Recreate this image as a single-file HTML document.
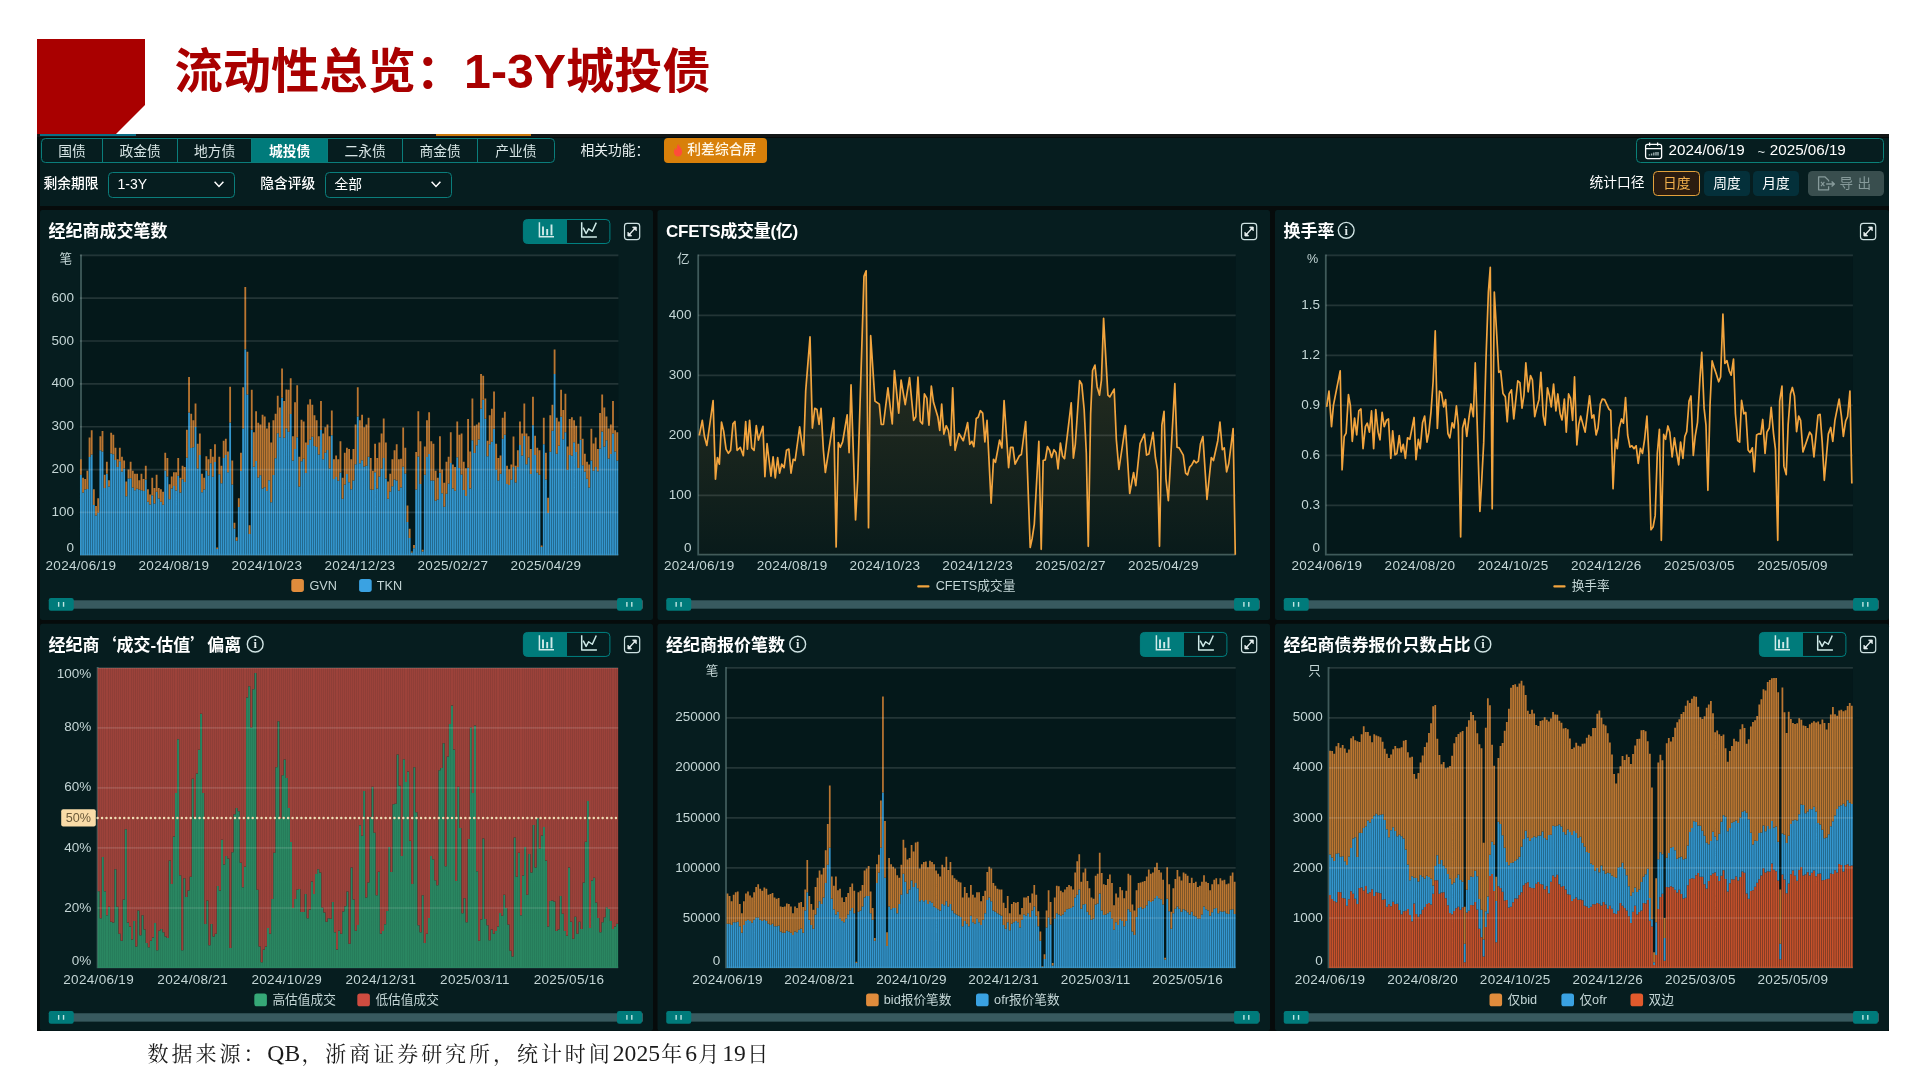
<!DOCTYPE html>
<html lang="zh-CN"><head><meta charset="utf-8"><title>流动性总览：1-3Y城投债</title>
<style>
html,body{margin:0;padding:0}
html{background:#fff}
body{filter:contrast(1);will-change:transform}
body{width:1920px;height:1080px;background:#fff;position:relative;overflow:hidden;font-family:"Liberation Sans","Noto Sans CJK SC",sans-serif;color:#fff}
.abs{position:absolute}
#title{left:174.6px;top:34.6px;font-size:48.25px;font-weight:700;color:#a90000;white-space:nowrap;line-height:72px;letter-spacing:0}
#frame{left:37px;top:134px;width:1852px;height:896.7px;background:#060b0b;border-top:3.5px solid #131717;box-sizing:border-box}
#bar{left:40px;top:137.5px;width:1849px;height:68px;background:#061d1f}
.tabs{left:40.5px;top:138px;height:24.6px;display:flex;border:1px solid #0a7d7b;border-radius:4.5px;overflow:hidden;box-sizing:border-box;width:514px}
.tabs div{font-size:13.75px;line-height:25.8px;text-align:center;color:#d6e4e4;border-right:1px solid #0a7d7b;box-sizing:border-box}
.tabs div:last-child{border-right:0}
.tabs div.on{background:#007b7b;color:#fff;font-weight:700}
.lab{font-size:13.75px;line-height:20px;white-space:nowrap;color:#e8f0f0}
.b{font-weight:500;color:#fff}
.sel{height:25.5px;border:1px solid #0a7d7b;border-radius:4.5px;box-sizing:border-box;font-size:14px;line-height:23.5px;color:#fff;padding-left:9px}
.btn{height:25px;border-radius:4.5px;box-sizing:border-box;font-size:13.75px;line-height:25px;text-align:center;color:#fff;background:#04303a}
#foot{left:147.6px;top:1039.2px;font-family:"Liberation Serif","Noto Serif CJK SC",serif;font-size:21px;line-height:28px;color:#1a1a1a;white-space:nowrap;letter-spacing:2.95px}
#foot span{letter-spacing:0;font-size:23.6px;line-height:28px;margin-right:1.3px}
svg text{font-family:"Liberation Sans","Noto Sans CJK SC",sans-serif}
</style></head><body>
<svg class="abs" style="left:0;top:0" width="1920" height="1080" viewBox="0 0 1920 1080"><polygon points="37,39 145,39 145,105 116,134 37,134" fill="#a90000"/></svg>
<div id="title" class="abs">流动性总览：1-3Y城投债</div>
<div id="frame" class="abs"></div>
<div id="bar" class="abs"></div>
<div class="abs" style="left:40px;top:134px;width:96px;height:1.6px;background:#0b6f86"></div>
<div class="abs" style="left:436px;top:134px;width:95px;height:1.6px;background:#c9780c"></div>
<div class="abs tabs"><div style="width:62px">国债</div><div style="width:75px">政金债</div><div style="width:74.5px">地方债</div><div style="width:76px" class="on">城投债</div><div style="width:75.75px">二永债</div><div style="width:75px">商金债</div><div style="width:75.75px">产业债</div></div>
<div class="abs lab" style="left:580.5px;top:140.5px">相关功能：</div>
<div class="abs" style="left:664.2px;top:138px;width:102.6px;height:25px;border-radius:4px;background:#d8800a"></div>
<svg class="abs" style="left:671px;top:143px" width="14" height="15" viewBox="0 0 14 15"><path d="M7.2 0.8c0.6 2.4 3.9 4.4 3.9 8.1a4.1 4.6 0 0 1-8.2 0c0-1.7 0.8-3 1.6-3.9c0.2 1.1 0.7 1.8 1.3 2.1c-0.3-2.3 0.3-4.6 1.4-6.3z" fill="#ff4b3a"/></svg>
<div class="abs lab" style="left:687.3px;top:140.4px;font-weight:500;font-size:13.8px;color:#fff6e6">利差综合屏</div>
<div class="abs lab b" style="left:43.6px;top:174.3px">剩余期限</div>
<div class="abs sel" style="left:107.5px;top:172px;width:127.5px">1-3Y</div>
<svg class="abs" style="left:213px;top:180px" width="12" height="9" viewBox="0 0 12 9"><path d="M1.6 1.8L6 6.4L10.4 1.8" fill="none" stroke="#fff" stroke-width="1.5"/></svg>
<div class="abs lab b" style="left:260.3px;top:174.3px">隐含评级</div>
<div class="abs sel" style="left:325px;top:172px;width:127px;padding-left:8.4px;font-size:13.75px">全部</div>
<svg class="abs" style="left:429.5px;top:180px" width="12" height="9" viewBox="0 0 12 9"><path d="M1.6 1.8L6 6.4L10.4 1.8" fill="none" stroke="#fff" stroke-width="1.5"/></svg>
<div class="abs" style="left:1636px;top:138px;width:248px;height:24.6px;border:1px solid #0a8078;border-radius:4.5px;box-sizing:border-box"></div>
<svg class="abs" style="left:1643.5px;top:141px" width="20" height="20" viewBox="0 0 20 20"><g fill="none" stroke="#fff" stroke-width="1.3" stroke-linejoin="round"><rect x="1.6" y="3.4" width="16" height="14.2" rx="2"/><path d="M1.6 7.6h16M5.6 1.4v3.4M13.6 1.4v3.4"/></g><path d="M5.4 14.6v-1.4M7.6 14.6v-2.2M9.8 14.6v-3M12 14.6v-3.6M14 14.6v-3.6" stroke="#9fb2b2" stroke-width="1.4" fill="none"/></svg>
<div class="abs lab" style="left:1668.6px;top:140.2px;font-size:15.2px;color:#fff">2024/06/19</div>
<div class="abs lab" style="left:1757.5px;top:141.6px;font-size:13px;color:#dfe8e8">~</div>
<div class="abs lab" style="left:1769.8px;top:140.2px;font-size:15.2px;color:#fff">2025/06/19</div>
<div class="abs lab b" style="left:1589.4px;top:173px;font-weight:400;color:#fff">统计口径</div>
<div class="abs btn" style="left:1653.4px;top:171px;width:46.6px;background:#2a1c10;border:1px solid #e2a13c;color:#f2b04c;line-height:23px">日度</div>
<div class="abs btn" style="left:1704px;top:171px;width:45.8px">周度</div>
<div class="abs btn" style="left:1753.2px;top:171px;width:45.8px">月度</div>
<div class="abs btn" style="left:1808px;top:170.8px;width:76px;height:25.4px;background:#394e4e;color:#869a9a;text-align:left;padding-left:31.5px;letter-spacing:4.5px;font-size:13.6px">导出</div>
<svg class="abs" style="left:1817px;top:175px" width="20" height="18" viewBox="0 0 20 18"><g fill="none" stroke="#879b9b" stroke-width="1.3" stroke-linejoin="round"><path d="M11.6 11.2v3.6h-10v-13h6.2l3.8 3.6v1"/><path d="M9.2 9h8M14.6 6.4l2.8 2.6l-2.8 2.6"/><path d="M4 6.8l3.4 4.4M7.4 6.8l-3.4 4.4" stroke-width="1.1"/></g></svg>
<svg class="abs" style="left:0;top:0" width="1920" height="1080" viewBox="0 0 1920 1080">
<rect x="40" y="210" width="613" height="410" rx="2.5" fill="#061d1f"/>
<text x="48.6" y="237.4" font-size="17" font-weight="700" fill="#fff">经纪商成交笔数</text>
<rect x="523.4" y="219.5" width="86.5" height="24" rx="4" fill="none" stroke="#008080" stroke-width="1"/>
<path d="M527.4 219.5h39.6v24h-39.6a4 4 0 0 1-4-4v-16a4 4 0 0 1 4-4z" fill="#007b7b"/>
<g stroke="#cfeae8" fill="none" stroke-linecap="butt"><path d="M539.4 222.2v14.6h14.6" stroke-width="1.5"/><path d="M543 235.3v-8.7M547.2 235.3v-6.2M551.5 235.3v-10.9" stroke-width="1.9"/></g>
<g stroke="#cfeae8" fill="none" stroke-linejoin="round"><path d="M581.7 222.2v14.9h15.2" stroke-width="1.5"/><path d="M583.2 227.7l2.9 5.8l2.5-4.7l3.7 2.5l4-8.7" stroke-width="1.5"/></g>
<rect x="624.5" y="223.4" width="15.2" height="16.2" rx="2.8" fill="none" stroke="#cfe3e3" stroke-width="1.2"/>
<g stroke="#e6efef" stroke-width="1.3" fill="#e6efef" stroke-linejoin="round"><path d="M628.9 235L635.3 228" fill="none"/><path d="M632.5 227h3.8v3.8z" stroke-width="0.8"/><path d="M631.7 236h-3.8v-3.8z" stroke-width="0.8"/></g>
<rect x="79.8" y="255.3" width="538.6" height="300" fill="#04181a"/>
<path d="M81 254.5V554.7H618.4" stroke="#3f5a5a" stroke-width="1.8" fill="none"/>

<path d="M79.97 555.3h1.82V474.77h-1.82zM82.14 555.3h1.82V492.42h-1.82zM84.3 555.3h1.82V489.46h-1.82zM86.46 555.3h1.82V488.92h-1.82zM88.63 555.3h1.82V456.97h-1.82zM90.79 555.3h1.82V454.39h-1.82zM92.95 555.3h1.82V505.01h-1.82zM95.11 555.3h1.82V515.46h-1.82zM97.28 555.3h1.82V512.86h-1.82zM99.44 555.3h1.82V450.21h-1.82zM101.6 555.3h1.82V451.46h-1.82zM103.77 555.3h1.82V488.01h-1.82zM105.93 555.3h1.82V473.8h-1.82zM108.09 555.3h1.82V486.47h-1.82zM110.26 555.3h1.82V453.5h-1.82zM112.42 555.3h1.82V454.18h-1.82zM114.58 555.3h1.82V460.07h-1.82zM116.74 555.3h1.82V466.9h-1.82zM118.91 555.3h1.82V461.33h-1.82zM121.07 555.3h1.82V471.61h-1.82zM123.23 555.3h1.82V468.57h-1.82zM125.4 555.3h1.82V496.23h-1.82zM127.56 555.3h1.82V478.51h-1.82zM129.72 555.3h1.82V478.24h-1.82zM131.89 555.3h1.82V487.38h-1.82zM134.05 555.3h1.82V490.29h-1.82zM136.21 555.3h1.82V488.66h-1.82zM138.38 555.3h1.82V489.56h-1.82zM140.54 555.3h1.82V490.37h-1.82zM142.7 555.3h1.82V491.02h-1.82zM144.86 555.3h1.82V479.46h-1.82zM147.03 555.3h1.82V501.63h-1.82zM149.19 555.3h1.82V504.62h-1.82zM151.35 555.3h1.82V495.33h-1.82zM153.52 555.3h1.82V503.41h-1.82zM155.68 555.3h1.82V491.87h-1.82zM157.84 555.3h1.82V498.6h-1.82zM160.01 555.3h1.82V501.79h-1.82zM162.17 555.3h1.82V504.83h-1.82zM164.33 555.3h1.82V470.62h-1.82zM166.5 555.3h1.82V476.56h-1.82zM168.66 555.3h1.82V499.13h-1.82zM170.82 555.3h1.82V488.48h-1.82zM172.98 555.3h1.82V485.93h-1.82zM175.15 555.3h1.82V490.59h-1.82zM177.31 555.3h1.82V475.87h-1.82zM179.47 555.3h1.82V492.54h-1.82zM181.64 555.3h1.82V479.21h-1.82zM183.8 555.3h1.82V481.98h-1.82zM185.96 555.3h1.82V457.85h-1.82zM188.13 555.3h1.82V412.59h-1.82zM190.29 555.3h1.82V447.93h-1.82zM192.45 555.3h1.82V447.28h-1.82zM194.61 555.3h1.82V426.97h-1.82zM196.78 555.3h1.82V468.58h-1.82zM198.94 555.3h1.82V455.05h-1.82zM201.1 555.3h1.82V492.22h-1.82zM203.27 555.3h1.82V489.52h-1.82zM205.43 555.3h1.82V470.41h-1.82zM207.59 555.3h1.82V475.4h-1.82zM209.76 555.3h1.82V463.2h-1.82zM211.92 555.3h1.82V476.74h-1.82zM214.08 555.3h1.82V462h-1.82zM216.25 555.3h1.82V548.93h-1.82zM218.41 555.3h1.82V474.23h-1.82zM220.57 555.3h1.82V483.15h-1.82zM222.73 555.3h1.82V458.11h-1.82zM224.9 555.3h1.82V455.07h-1.82zM227.06 555.3h1.82V472.21h-1.82zM229.22 555.3h1.82V422.44h-1.82zM231.39 555.3h1.82V484.52h-1.82zM233.55 555.3h1.82V528.59h-1.82zM235.71 555.3h1.82V540.73h-1.82zM237.88 555.3h1.82V507.01h-1.82zM240.04 555.3h1.82V471.04h-1.82zM242.2 555.3h1.82V428.6h-1.82zM244.37 555.3h1.82V349.16h-1.82zM246.53 555.3h1.82V394.59h-1.82zM248.69 555.3h1.82V533.98h-1.82zM250.85 555.3h1.82V429.67h-1.82zM253.02 555.3h1.82V466.72h-1.82zM255.18 555.3h1.82V461.12h-1.82zM257.34 555.3h1.82V477.55h-1.82zM259.51 555.3h1.82V475.28h-1.82zM261.67 555.3h1.82V488.46h-1.82zM263.83 555.3h1.82V487.3h-1.82zM266 555.3h1.82V490.99h-1.82zM268.16 555.3h1.82V480.29h-1.82zM270.32 555.3h1.82V502.36h-1.82zM272.48 555.3h1.82V475.12h-1.82zM274.65 555.3h1.82V458.29h-1.82zM276.81 555.3h1.82V433.18h-1.82zM278.97 555.3h1.82V437.26h-1.82zM281.14 555.3h1.82V397.65h-1.82zM283.3 555.3h1.82V437.83h-1.82zM285.46 555.3h1.82V428.28h-1.82zM287.63 555.3h1.82V431.72h-1.82zM289.79 555.3h1.82V414.04h-1.82zM291.95 555.3h1.82V460.59h-1.82zM294.12 555.3h1.82V449h-1.82zM296.28 555.3h1.82V437.14h-1.82zM298.44 555.3h1.82V486.51h-1.82zM300.6 555.3h1.82V461.22h-1.82zM302.77 555.3h1.82V458.82h-1.82zM304.93 555.3h1.82V472.94h-1.82zM307.09 555.3h1.82V444.94h-1.82zM309.26 555.3h1.82V439.78h-1.82zM311.42 555.3h1.82V436.72h-1.82zM313.58 555.3h1.82V445.95h-1.82zM315.75 555.3h1.82V447.04h-1.82zM317.91 555.3h1.82V454.46h-1.82zM320.07 555.3h1.82V429.89h-1.82zM322.23 555.3h1.82V459.16h-1.82zM324.4 555.3h1.82V452.77h-1.82zM326.56 555.3h1.82V450.06h-1.82zM328.72 555.3h1.82V468.51h-1.82zM330.89 555.3h1.82V435.37h-1.82zM333.05 555.3h1.82V479.11h-1.82zM335.21 555.3h1.82V476.92h-1.82zM337.38 555.3h1.82V480.83h-1.82zM339.54 555.3h1.82V472.41h-1.82zM341.7 555.3h1.82V498.84h-1.82zM343.87 555.3h1.82V484.38h-1.82zM346.03 555.3h1.82V473.96h-1.82zM348.19 555.3h1.82V482.23h-1.82zM350.35 555.3h1.82V489.32h-1.82zM352.52 555.3h1.82V480.53h-1.82zM354.68 555.3h1.82V464.17h-1.82zM356.84 555.3h1.82V416.44h-1.82zM359.01 555.3h1.82V463.17h-1.82zM361.17 555.3h1.82V460.36h-1.82zM363.33 555.3h1.82V466.53h-1.82zM365.5 555.3h1.82V465.63h-1.82zM367.66 555.3h1.82V456.7h-1.82zM369.82 555.3h1.82V489.6h-1.82zM371.99 555.3h1.82V489.74h-1.82zM374.15 555.3h1.82V472.35h-1.82zM376.31 555.3h1.82V488.38h-1.82zM378.47 555.3h1.82V476.46h-1.82zM380.64 555.3h1.82V468.86h-1.82zM382.8 555.3h1.82V458.04h-1.82zM384.96 555.3h1.82V478.47h-1.82zM387.13 555.3h1.82V498.69h-1.82zM389.29 555.3h1.82V491.41h-1.82zM391.45 555.3h1.82V486.13h-1.82zM393.62 555.3h1.82V479.5h-1.82zM395.78 555.3h1.82V480.55h-1.82zM397.94 555.3h1.82V490.54h-1.82zM400.1 555.3h1.82V487.54h-1.82zM402.27 555.3h1.82V466.85h-1.82zM404.43 555.3h1.82V473.6h-1.82zM406.59 555.3h1.82V521.92h-1.82zM408.76 555.3h1.82V538.11h-1.82zM410.92 555.3h1.82V552.41h-1.82zM413.08 555.3h1.82V548.19h-1.82zM415.25 555.3h1.82V489.45h-1.82zM417.41 555.3h1.82V456.52h-1.82zM419.57 555.3h1.82V484.07h-1.82zM421.74 555.3h1.82V551.48h-1.82zM423.9 555.3h1.82V474.68h-1.82zM426.06 555.3h1.82V457.07h-1.82zM428.22 555.3h1.82V453.91h-1.82zM430.39 555.3h1.82V480.41h-1.82zM432.55 555.3h1.82V480.6h-1.82zM434.71 555.3h1.82V500.65h-1.82zM436.88 555.3h1.82V499.4h-1.82zM439.04 555.3h1.82V472.77h-1.82zM441.2 555.3h1.82V493.32h-1.82zM443.37 555.3h1.82V506.78h-1.82zM445.53 555.3h1.82V493.83h-1.82zM447.69 555.3h1.82V483.4h-1.82zM449.85 555.3h1.82V462.93h-1.82zM452.02 555.3h1.82V488.44h-1.82zM454.18 555.3h1.82V490.75h-1.82zM456.34 555.3h1.82V457.23h-1.82zM458.51 555.3h1.82V468.02h-1.82zM460.67 555.3h1.82V474.48h-1.82zM462.83 555.3h1.82V489.93h-1.82zM465 555.3h1.82V496.05h-1.82zM467.16 555.3h1.82V467.71h-1.82zM469.32 555.3h1.82V488.58h-1.82zM471.49 555.3h1.82V440.24h-1.82zM473.65 555.3h1.82V452.91h-1.82zM475.81 555.3h1.82V445.3h-1.82zM477.97 555.3h1.82V439.49h-1.82zM480.14 555.3h1.82V408.63h-1.82zM482.3 555.3h1.82V399.74h-1.82zM484.46 555.3h1.82V418.7h-1.82zM486.63 555.3h1.82V456.28h-1.82zM488.79 555.3h1.82V444.17h-1.82zM490.95 555.3h1.82V441.83h-1.82zM493.12 555.3h1.82V428.69h-1.82zM495.28 555.3h1.82V469.7h-1.82zM497.44 555.3h1.82V480.62h-1.82zM499.61 555.3h1.82V473.77h-1.82zM501.77 555.3h1.82V438.63h-1.82zM503.93 555.3h1.82V434.75h-1.82zM506.09 555.3h1.82V484.07h-1.82zM508.26 555.3h1.82V485.11h-1.82zM510.42 555.3h1.82V479.77h-1.82zM512.58 555.3h1.82V466.94h-1.82zM514.75 555.3h1.82V482.55h-1.82zM516.91 555.3h1.82V467h-1.82zM519.07 555.3h1.82V445.06h-1.82zM521.24 555.3h1.82V455.56h-1.82zM523.4 555.3h1.82V436.11h-1.82zM525.56 555.3h1.82V464.2h-1.82zM527.72 555.3h1.82V457.53h-1.82zM529.89 555.3h1.82V474.03h-1.82zM532.05 555.3h1.82V425.33h-1.82zM534.21 555.3h1.82V454.99h-1.82zM536.38 555.3h1.82V472.61h-1.82zM538.54 555.3h1.82V474.64h-1.82zM540.7 555.3h1.82V547.08h-1.82zM542.87 555.3h1.82V444.28h-1.82zM545.03 555.3h1.82V479.46h-1.82zM547.19 555.3h1.82V513.08h-1.82zM549.36 555.3h1.82V451.86h-1.82zM551.52 555.3h1.82V430.66h-1.82zM553.68 555.3h1.82V374.01h-1.82zM555.84 555.3h1.82V453.84h-1.82zM558.01 555.3h1.82V445.76h-1.82zM560.17 555.3h1.82V416.73h-1.82zM562.33 555.3h1.82V439.24h-1.82zM564.5 555.3h1.82V432.17h-1.82zM566.66 555.3h1.82V469.76h-1.82zM568.82 555.3h1.82V455.03h-1.82zM570.99 555.3h1.82V455.7h-1.82zM573.15 555.3h1.82V442.37h-1.82zM575.31 555.3h1.82V452.02h-1.82zM577.48 555.3h1.82V468.03h-1.82zM579.64 555.3h1.82V439.77h-1.82zM581.8 555.3h1.82V465.3h-1.82zM583.96 555.3h1.82V471.54h-1.82zM586.13 555.3h1.82V478.77h-1.82zM588.29 555.3h1.82V487.58h-1.82zM590.45 555.3h1.82V460.45h-1.82zM592.62 555.3h1.82V470.83h-1.82zM594.78 555.3h1.82V467.04h-1.82zM596.94 555.3h1.82V471.29h-1.82zM599.11 555.3h1.82V448.43h-1.82zM601.27 555.3h1.82V431.5h-1.82zM603.43 555.3h1.82V446.52h-1.82zM605.59 555.3h1.82V440.16h-1.82zM607.76 555.3h1.82V458.58h-1.82zM609.92 555.3h1.82V454h-1.82zM612.08 555.3h1.82V433.41h-1.82zM614.25 555.3h1.82V451.62h-1.82zM616.41 555.3h1.82V460.53h-1.82z" fill="#3496ce"/><path d="M79.97 474.77h1.82V459.3h-1.82zM82.14 492.42h1.82V477.73h-1.82zM84.3 489.46h1.82V479.01h-1.82zM86.46 488.92h1.82V470.87h-1.82zM88.63 456.97h1.82V437.44h-1.82zM90.79 454.39h1.82V430.16h-1.82zM92.95 505.01h1.82V489.3h-1.82zM95.11 515.46h1.82V506.01h-1.82zM97.28 512.86h1.82V498.3h-1.82zM99.44 450.21h1.82V436.16h-1.82zM101.6 451.46h1.82V431.01h-1.82zM103.77 488.01h1.82V474.73h-1.82zM105.93 473.8h1.82V461.87h-1.82zM108.09 486.47h1.82V480.3h-1.82zM110.26 453.5h1.82V432.73h-1.82zM112.42 454.18h1.82V434.87h-1.82zM114.58 460.07h1.82V447.73h-1.82zM116.74 466.9h1.82V459.3h-1.82zM118.91 461.33h1.82V447.73h-1.82zM121.07 471.61h1.82V456.73h-1.82zM123.23 468.57h1.82V460.59h-1.82zM125.4 496.23h1.82V481.59h-1.82zM127.56 478.51h1.82V469.59h-1.82zM129.72 478.24h1.82V461.87h-1.82zM131.89 487.38h1.82V470.87h-1.82zM134.05 490.29h1.82V473.87h-1.82zM136.21 488.66h1.82V473.87h-1.82zM138.38 489.56h1.82V480.3h-1.82zM140.54 490.37h1.82V473.87h-1.82zM142.7 491.02h1.82V479.01h-1.82zM144.86 479.46h1.82V465.73h-1.82zM147.03 501.63h1.82V489.3h-1.82zM149.19 504.62h1.82V494.44h-1.82zM151.35 495.33h1.82V477.73h-1.82zM153.52 503.41h1.82V488.01h-1.82zM155.68 491.87h1.82V474.73h-1.82zM157.84 498.6h1.82V488.01h-1.82zM160.01 501.79h1.82V489.3h-1.82zM162.17 504.83h1.82V491.87h-1.82zM164.33 470.62h1.82V452.87h-1.82zM166.5 476.56h1.82V458.01h-1.82zM168.66 499.13h1.82V484.16h-1.82zM170.82 488.48h1.82V476.44h-1.82zM172.98 485.93h1.82V472.16h-1.82zM175.15 490.59h1.82V472.16h-1.82zM177.31 475.87h1.82V458.01h-1.82zM179.47 492.54h1.82V477.73h-1.82zM181.64 479.21h1.82V465.73h-1.82zM183.8 481.98h1.82V467.01h-1.82zM185.96 457.85h1.82V429.73h-1.82zM188.13 412.59h1.82V377.01h-1.82zM190.29 447.93h1.82V413.87h-1.82zM192.45 447.28h1.82V420.3h-1.82zM194.61 426.97h1.82V403.59h-1.82zM196.78 468.58h1.82V443.87h-1.82zM198.94 455.05h1.82V433.59h-1.82zM201.1 492.22h1.82V473.87h-1.82zM203.27 489.52h1.82V477.73h-1.82zM205.43 470.41h1.82V456.3h-1.82zM207.59 475.4h1.82V459.3h-1.82zM209.76 463.2h1.82V449.01h-1.82zM211.92 476.74h1.82V456.73h-1.82zM214.08 462h1.82V444.3h-1.82zM216.25 548.93h1.82V547.59h-1.82zM218.41 474.23h1.82V456.73h-1.82zM220.57 483.15h1.82V465.73h-1.82zM222.73 458.11h1.82V440.87h-1.82zM224.9 455.07h1.82V438.73h-1.82zM227.06 472.21h1.82V451.59h-1.82zM229.22 422.44h1.82V386.87h-1.82zM231.39 484.52h1.82V460.59h-1.82zM233.55 528.59h1.82V522.73h-1.82zM235.71 540.73h1.82V537.3h-1.82zM237.88 507.01h1.82V498.3h-1.82zM240.04 471.04h1.82V452.87h-1.82zM242.2 428.6h1.82V387.3h-1.82zM244.37 349.16h1.82V287.01h-1.82zM246.53 394.59h1.82V351.73h-1.82zM248.69 533.98h1.82V525.3h-1.82zM250.85 429.67h1.82V389.87h-1.82zM253.02 466.72h1.82V432.3h-1.82zM255.18 461.12h1.82V411.3h-1.82zM257.34 477.55h1.82V422.87h-1.82zM259.51 475.28h1.82V424.59h-1.82zM261.67 488.46h1.82V414.73h-1.82zM263.83 487.3h1.82V416.44h-1.82zM266 490.99h1.82V428.44h-1.82zM268.16 480.29h1.82V422.44h-1.82zM270.32 502.36h1.82V442.59h-1.82zM272.48 475.12h1.82V420.3h-1.82zM274.65 458.29h1.82V413.87h-1.82zM276.81 433.18h1.82V395.87h-1.82zM278.97 437.26h1.82V407.44h-1.82zM281.14 397.65h1.82V368.44h-1.82zM283.3 437.83h1.82V401.01h-1.82zM285.46 428.28h1.82V389.44h-1.82zM287.63 431.72h1.82V389.87h-1.82zM289.79 414.04h1.82V378.3h-1.82zM291.95 460.59h1.82V436.16h-1.82zM294.12 449h1.82V402.3h-1.82zM296.28 437.14h1.82V385.16h-1.82zM298.44 486.51h1.82V456.73h-1.82zM300.6 461.22h1.82V419.87h-1.82zM302.77 458.82h1.82V421.59h-1.82zM304.93 472.94h1.82V442.59h-1.82zM307.09 444.94h1.82V404.44h-1.82zM309.26 439.78h1.82V399.3h-1.82zM311.42 436.72h1.82V404.87h-1.82zM313.58 445.95h1.82V415.16h-1.82zM315.75 447.04h1.82V420.3h-1.82zM317.91 454.46h1.82V436.16h-1.82zM320.07 429.89h1.82V401.01h-1.82zM322.23 459.16h1.82V433.59h-1.82zM324.4 452.77h1.82V427.16h-1.82zM326.56 450.06h1.82V424.59h-1.82zM328.72 468.51h1.82V436.16h-1.82zM330.89 435.37h1.82V410.44h-1.82zM333.05 479.11h1.82V459.3h-1.82zM335.21 476.92h1.82V455.44h-1.82zM337.38 480.83h1.82V459.3h-1.82zM339.54 472.41h1.82V441.3h-1.82zM341.7 498.84h1.82V477.73h-1.82zM343.87 484.38h1.82V452.87h-1.82zM346.03 473.96h1.82V447.73h-1.82zM348.19 482.23h1.82V449.01h-1.82zM350.35 489.32h1.82V459.3h-1.82zM352.52 480.53h1.82V449.01h-1.82zM354.68 464.17h1.82V424.59h-1.82zM356.84 416.44h1.82V387.3h-1.82zM359.01 463.17h1.82V420.3h-1.82zM361.17 460.36h1.82V414.73h-1.82zM363.33 466.53h1.82V427.16h-1.82zM365.5 465.63h1.82V424.59h-1.82zM367.66 456.7h1.82V417.73h-1.82zM369.82 489.6h1.82V458.01h-1.82zM371.99 489.74h1.82V470.87h-1.82zM374.15 472.35h1.82V443.87h-1.82zM376.31 488.38h1.82V458.01h-1.82zM378.47 476.46h1.82V442.59h-1.82zM380.64 468.86h1.82V433.59h-1.82zM382.8 458.04h1.82V418.59h-1.82zM384.96 478.47h1.82V442.59h-1.82zM387.13 498.69h1.82V481.59h-1.82zM389.29 491.41h1.82V473.87h-1.82zM391.45 486.13h1.82V459.3h-1.82zM393.62 479.5h1.82V450.3h-1.82zM395.78 480.55h1.82V444.3h-1.82zM397.94 490.54h1.82V459.3h-1.82zM400.1 487.54h1.82V458.87h-1.82zM402.27 466.85h1.82V427.59h-1.82zM404.43 473.6h1.82V447.73h-1.82zM406.59 521.92h1.82V505.59h-1.82zM408.76 538.11h1.82V528.73h-1.82zM410.92 552.41h1.82V551.44h-1.82zM413.08 548.19h1.82V545.01h-1.82zM415.25 489.45h1.82V452.01h-1.82zM417.41 456.52h1.82V411.3h-1.82zM419.57 484.07h1.82V441.3h-1.82zM421.74 551.48h1.82V549.73h-1.82zM423.9 474.68h1.82V446.44h-1.82zM426.06 457.07h1.82V420.3h-1.82zM428.22 453.91h1.82V412.16h-1.82zM430.39 480.41h1.82V441.3h-1.82zM432.55 480.6h1.82V443.87h-1.82zM434.71 500.65h1.82V470.87h-1.82zM436.88 499.4h1.82V477.73h-1.82zM439.04 472.77h1.82V436.16h-1.82zM441.2 493.32h1.82V469.59h-1.82zM443.37 506.78h1.82V482.87h-1.82zM445.53 493.83h1.82V461.87h-1.82zM447.69 483.4h1.82V456.73h-1.82zM449.85 462.93h1.82V432.3h-1.82zM452.02 488.44h1.82V464.44h-1.82zM454.18 490.75h1.82V467.01h-1.82zM456.34 457.23h1.82V421.59h-1.82zM458.51 468.02h1.82V434.87h-1.82zM460.67 474.48h1.82V433.59h-1.82zM462.83 489.93h1.82V461.87h-1.82zM465 496.05h1.82V468.3h-1.82zM467.16 467.71h1.82V419.01h-1.82zM469.32 488.58h1.82V451.59h-1.82zM471.49 440.24h1.82V398.44h-1.82zM473.65 452.91h1.82V425.87h-1.82zM475.81 445.3h1.82V424.59h-1.82zM477.97 439.49h1.82V422.44h-1.82zM480.14 408.63h1.82V374.01h-1.82zM482.3 399.74h1.82V375.73h-1.82zM484.46 418.7h1.82V398.44h-1.82zM486.63 456.28h1.82V440.87h-1.82zM488.79 444.17h1.82V415.16h-1.82zM490.95 441.83h1.82V408.73h-1.82zM493.12 428.69h1.82V391.59h-1.82zM495.28 469.7h1.82V443.87h-1.82zM497.44 480.62h1.82V458.01h-1.82zM499.61 473.77h1.82V455.44h-1.82zM501.77 438.63h1.82V417.73h-1.82zM503.93 434.75h1.82V411.73h-1.82zM506.09 484.07h1.82V465.73h-1.82zM508.26 485.11h1.82V469.16h-1.82zM510.42 479.77h1.82V464.44h-1.82zM512.58 466.94h1.82V436.59h-1.82zM514.75 482.55h1.82V465.73h-1.82zM516.91 467h1.82V450.3h-1.82zM519.07 445.06h1.82V421.59h-1.82zM521.24 455.56h1.82V433.59h-1.82zM523.4 436.11h1.82V403.59h-1.82zM525.56 464.2h1.82V433.59h-1.82zM527.72 457.53h1.82V436.16h-1.82zM529.89 474.03h1.82V449.01h-1.82zM532.05 425.33h1.82V396.73h-1.82zM534.21 454.99h1.82V435.73h-1.82zM536.38 472.61h1.82V447.73h-1.82zM538.54 474.64h1.82V450.3h-1.82zM540.7 547.08h1.82V545.44h-1.82zM542.87 444.28h1.82V417.73h-1.82zM545.03 479.46h1.82V452.87h-1.82zM547.19 513.08h1.82V497.87h-1.82zM549.36 451.86h1.82V415.16h-1.82zM551.52 430.66h1.82V404.87h-1.82zM553.68 374.01h1.82V349.59h-1.82zM555.84 453.84h1.82V417.73h-1.82zM558.01 445.76h1.82V421.59h-1.82zM560.17 416.73h1.82V389.87h-1.82zM562.33 439.24h1.82V410.01h-1.82zM564.5 432.17h1.82V393.73h-1.82zM566.66 469.76h1.82V446.44h-1.82zM568.82 455.03h1.82V419.01h-1.82zM570.99 455.7h1.82V417.3h-1.82zM573.15 442.37h1.82V420.3h-1.82zM575.31 452.02h1.82V425.87h-1.82zM577.48 468.03h1.82V443.87h-1.82zM579.64 439.77h1.82V416.44h-1.82zM581.8 465.3h1.82V438.73h-1.82zM583.96 471.54h1.82V453.73h-1.82zM586.13 478.77h1.82V461.87h-1.82zM588.29 487.58h1.82V464.44h-1.82zM590.45 460.45h1.82V428.87h-1.82zM592.62 470.83h1.82V443.44h-1.82zM594.78 467.04h1.82V437.44h-1.82zM596.94 471.29h1.82V449.01h-1.82zM599.11 448.43h1.82V413.01h-1.82zM601.27 431.5h1.82V394.59h-1.82zM603.43 446.52h1.82V407.44h-1.82zM605.59 440.16h1.82V416.44h-1.82zM607.76 458.58h1.82V428.44h-1.82zM609.92 454h1.82V424.59h-1.82zM612.08 433.41h1.82V401.01h-1.82zM614.25 451.62h1.82V430.16h-1.82zM616.41 460.53h1.82V432.3h-1.82z" fill="#bb7631"/>
<path d="M79.8 512.44H618.4M79.8 469.59H618.4M79.8 426.73H618.4M79.8 383.87H618.4M79.8 341.01H618.4M79.8 298.16H618.4M79.8 255.3H618.4" stroke="#ffffff" stroke-width="1.7" fill="none" opacity="0.125"/>
<text x="74" y="551.75" font-size="13.5" text-anchor="end" fill="#c4d6d6">0</text>
<text x="74" y="515.99" font-size="13.5" text-anchor="end" fill="#c4d6d6">100</text>
<text x="74" y="473.14" font-size="13.5" text-anchor="end" fill="#c4d6d6">200</text>
<text x="74" y="430.28" font-size="13.5" text-anchor="end" fill="#c4d6d6">300</text>
<text x="74" y="387.42" font-size="13.5" text-anchor="end" fill="#c4d6d6">400</text>
<text x="74" y="344.56" font-size="13.5" text-anchor="end" fill="#c4d6d6">500</text>
<text x="74" y="301.71" font-size="13.5" text-anchor="end" fill="#c4d6d6">600</text>
<text x="74" y="258.85" font-size="13.5" text-anchor="end" fill="#c4d6d6"></text>
<text x="72.1" y="262.6" font-size="12.6" text-anchor="end" fill="#c4d6d6">笔</text>
<text x="80.88" y="570.2" font-size="13.5" letter-spacing="0.32" text-anchor="middle" fill="#c4d6d6">2024/06/19</text>
<text x="173.89" y="570.2" font-size="13.5" letter-spacing="0.32" text-anchor="middle" fill="#c4d6d6">2024/08/19</text>
<text x="266.9" y="570.2" font-size="13.5" letter-spacing="0.32" text-anchor="middle" fill="#c4d6d6">2024/10/23</text>
<text x="359.92" y="570.2" font-size="13.5" letter-spacing="0.32" text-anchor="middle" fill="#c4d6d6">2024/12/23</text>
<text x="452.93" y="570.2" font-size="13.5" letter-spacing="0.32" text-anchor="middle" fill="#c4d6d6">2025/02/27</text>
<text x="545.94" y="570.2" font-size="13.5" letter-spacing="0.32" text-anchor="middle" fill="#c4d6d6">2025/04/29</text>
<rect x="291.3" y="579.1" width="12.6" height="12.8" rx="2.6" fill="#e08c3c"/>
<text x="309.5" y="590.1" font-size="12.7" fill="#c4d6d6">GVN</text>
<rect x="359.1" y="579.1" width="12.6" height="12.8" rx="2.6" fill="#3aa2e2"/>
<text x="376.7" y="590.1" font-size="12.7" fill="#c4d6d6">TKN</text>
<rect x="60" y="600.3" width="583" height="8.4" fill="#385a5f"/>
<rect x="48.75" y="598" width="25" height="12.8" rx="2.2" fill="#007b7b"/>
<path d="M58.65 602v4.8M63.55 602v4.8" stroke="#bfe6e2" stroke-width="1.4" fill="none"/>
<rect x="617" y="598" width="25" height="12.8" rx="2.2" fill="#007b7b"/>
<path d="M626.9 602v4.8M631.8 602v4.8" stroke="#bfe6e2" stroke-width="1.4" fill="none"/>
<rect x="657.5" y="210" width="612.5" height="410" rx="2.5" fill="#061d1f"/>
<text x="666.1" y="237.4" font-size="17" font-weight="700" fill="#fff"><tspan letter-spacing="-0.3">CFETS成交量(亿)</tspan></text>
<rect x="1241.5" y="223.4" width="15.2" height="16.2" rx="2.8" fill="none" stroke="#cfe3e3" stroke-width="1.2"/>
<g stroke="#e6efef" stroke-width="1.3" fill="#e6efef" stroke-linejoin="round"><path d="M1245.9 235L1252.3 228" fill="none"/><path d="M1249.5 227h3.8v3.8z" stroke-width="0.8"/><path d="M1248.7 236h-3.8v-3.8z" stroke-width="0.8"/></g>
<rect x="698.2" y="255.3" width="537.5" height="300" fill="#04181a"/>
<path d="M698.2 254.5V554.7H1235.7" stroke="#3f5a5a" stroke-width="1.8" fill="none"/>
<defs><linearGradient id="ga" x1="0" y1="0" x2="0" y2="1"><stop offset="0" stop-color="#f2a43e" stop-opacity="0.20"/><stop offset="1" stop-color="#f2a43e" stop-opacity="0.02"/></linearGradient></defs><polygon points="699.28,435.3 702.3,420.3 704.46,436.5 706.83,445.5 713.09,400.5 715.47,479.1 717.41,457.5 719.35,464.1 721.51,422.1 723.67,431.1 726.05,449.1 728.42,453.3 730.58,450.3 732.95,423.9 734.9,421.5 737.06,450.3 740.29,447.3 743.32,455.7 745.69,421.5 747.42,449.1 749.58,420.3 751.73,447.9 754.11,450.3 756.27,425.7 758.43,440.1 762.96,426.3 764.9,476.7 767.06,443.7 770.95,476.1 773.1,456.9 775.26,477.9 777.64,457.5 779.58,473.1 781.74,464.1 784.11,467.7 786.49,450.3 788.86,449.1 791.02,473.1 793.18,459.3 795.12,460.5 799.66,426.9 803.54,455.1 805.7,390.9 810.02,336.9 812.39,428.1 814.77,408.3 816.92,409.5 819.08,424.5 821.03,408.3 823.4,450.3 825.34,472.5 833.76,417.9 836.14,546.9 838.3,442.5 840.24,447.3 842.61,441.9 847.15,414.9 849.09,452.7 851.03,384.9 853.19,447.9 855.56,519.9 857.72,479.1 863.98,276.3 866.14,270.9 868.52,527.7 870.67,335.7 874.99,401.1 879.31,404.1 881.25,424.5 883.41,424.5 887.94,387.9 892.26,423.9 894.42,370.5 898.74,413.1 901.11,380.1 905.21,404.7 909.53,377.7 913.63,420.3 915.79,416.7 917.95,377.1 920.32,421.5 922.48,423.9 924.42,393.9 926.8,398.1 928.96,425.1 931.33,386.1 933.49,402.3 937.81,416.7 939.75,430.5 941.69,404.1 943.85,434.1 946.23,425.7 948.39,430.5 950.54,445.5 952.7,387.9 955.08,450.3 958.96,433.5 963.28,440.7 967.6,422.7 969.76,444.3 971.91,441.3 973.86,446.7 976.23,418.5 978.17,417.3 980.33,410.7 982.71,413.1 984.87,441.9 987.03,420.3 991.13,503.1 993.5,459.3 995.44,462.3 999.55,440.1 1001.92,447.9 1004.08,400.5 1008.61,467.7 1010.55,447.3 1012.93,447.3 1015.09,464.1 1019.4,455.7 1021.35,454.5 1025.66,421.5 1030.2,547.5 1032.14,538.5 1034.3,524.1 1038.83,441.3 1041.21,549.3 1043.15,460.5 1045.31,459.9 1047.47,446.7 1049.63,450.3 1051.57,457.5 1053.94,449.7 1056.1,452.7 1058.04,468.9 1060.42,443.1 1062.58,456.3 1064.52,458.7 1071.21,402.9 1073.37,458.1 1075.31,444.3 1079.63,380.7 1081.79,384.3 1084.16,409.5 1086.32,453.3 1088.27,546.3 1090.64,413.7 1092.58,370.5 1094.96,365.1 1097.12,386.7 1099.49,395.1 1101.43,380.1 1103.59,318.3 1107.91,395.1 1109.85,396.9 1114.17,389.1 1116.33,439.5 1118.92,469.5 1125.39,425.7 1129.71,493.5 1133.6,472.5 1135.76,485.7 1140.07,443.7 1144.39,434.1 1146.55,455.1 1148.92,453.9 1153.02,432.3 1155.4,457.5 1157.56,470.1 1159.5,546.3 1161.87,425.1 1164.03,411.3 1165.98,479.1 1168.35,500.7 1174.83,383.7 1176.99,447.3 1179.14,447.9 1183.25,455.1 1185.62,473.1 1187.56,474.9 1189.72,467.1 1191.88,464.7 1194.04,460.5 1196.2,462.9 1198.36,461.1 1200.51,443.7 1202.89,436.5 1206.99,499.5 1211.31,457.5 1213.47,460.5 1217.78,440.7 1219.94,422.1 1222.32,449.7 1224.26,447.9 1226.63,471.9 1228.79,463.5 1233.11,428.7 1235.27,554.7 1235.27,555.3 699.28,555.3" fill="url(#ga)"/>
<path d="M698.2 495.3H1235.7M698.2 435.3H1235.7M698.2 375.3H1235.7M698.2 315.3H1235.7M698.2 255.3H1235.7" stroke="#ffffff" stroke-width="1.7" fill="none" opacity="0.125"/>
<polyline points="699.28,435.3 702.3,420.3 704.46,436.5 706.83,445.5 713.09,400.5 715.47,479.1 717.41,457.5 719.35,464.1 721.51,422.1 723.67,431.1 726.05,449.1 728.42,453.3 730.58,450.3 732.95,423.9 734.9,421.5 737.06,450.3 740.29,447.3 743.32,455.7 745.69,421.5 747.42,449.1 749.58,420.3 751.73,447.9 754.11,450.3 756.27,425.7 758.43,440.1 762.96,426.3 764.9,476.7 767.06,443.7 770.95,476.1 773.1,456.9 775.26,477.9 777.64,457.5 779.58,473.1 781.74,464.1 784.11,467.7 786.49,450.3 788.86,449.1 791.02,473.1 793.18,459.3 795.12,460.5 799.66,426.9 803.54,455.1 805.7,390.9 810.02,336.9 812.39,428.1 814.77,408.3 816.92,409.5 819.08,424.5 821.03,408.3 823.4,450.3 825.34,472.5 833.76,417.9 836.14,546.9 838.3,442.5 840.24,447.3 842.61,441.9 847.15,414.9 849.09,452.7 851.03,384.9 853.19,447.9 855.56,519.9 857.72,479.1 863.98,276.3 866.14,270.9 868.52,527.7 870.67,335.7 874.99,401.1 879.31,404.1 881.25,424.5 883.41,424.5 887.94,387.9 892.26,423.9 894.42,370.5 898.74,413.1 901.11,380.1 905.21,404.7 909.53,377.7 913.63,420.3 915.79,416.7 917.95,377.1 920.32,421.5 922.48,423.9 924.42,393.9 926.8,398.1 928.96,425.1 931.33,386.1 933.49,402.3 937.81,416.7 939.75,430.5 941.69,404.1 943.85,434.1 946.23,425.7 948.39,430.5 950.54,445.5 952.7,387.9 955.08,450.3 958.96,433.5 963.28,440.7 967.6,422.7 969.76,444.3 971.91,441.3 973.86,446.7 976.23,418.5 978.17,417.3 980.33,410.7 982.71,413.1 984.87,441.9 987.03,420.3 991.13,503.1 993.5,459.3 995.44,462.3 999.55,440.1 1001.92,447.9 1004.08,400.5 1008.61,467.7 1010.55,447.3 1012.93,447.3 1015.09,464.1 1019.4,455.7 1021.35,454.5 1025.66,421.5 1030.2,547.5 1032.14,538.5 1034.3,524.1 1038.83,441.3 1041.21,549.3 1043.15,460.5 1045.31,459.9 1047.47,446.7 1049.63,450.3 1051.57,457.5 1053.94,449.7 1056.1,452.7 1058.04,468.9 1060.42,443.1 1062.58,456.3 1064.52,458.7 1071.21,402.9 1073.37,458.1 1075.31,444.3 1079.63,380.7 1081.79,384.3 1084.16,409.5 1086.32,453.3 1088.27,546.3 1090.64,413.7 1092.58,370.5 1094.96,365.1 1097.12,386.7 1099.49,395.1 1101.43,380.1 1103.59,318.3 1107.91,395.1 1109.85,396.9 1114.17,389.1 1116.33,439.5 1118.92,469.5 1125.39,425.7 1129.71,493.5 1133.6,472.5 1135.76,485.7 1140.07,443.7 1144.39,434.1 1146.55,455.1 1148.92,453.9 1153.02,432.3 1155.4,457.5 1157.56,470.1 1159.5,546.3 1161.87,425.1 1164.03,411.3 1165.98,479.1 1168.35,500.7 1174.83,383.7 1176.99,447.3 1179.14,447.9 1183.25,455.1 1185.62,473.1 1187.56,474.9 1189.72,467.1 1191.88,464.7 1194.04,460.5 1196.2,462.9 1198.36,461.1 1200.51,443.7 1202.89,436.5 1206.99,499.5 1211.31,457.5 1213.47,460.5 1217.78,440.7 1219.94,422.1 1222.32,449.7 1224.26,447.9 1226.63,471.9 1228.79,463.5 1233.11,428.7 1235.27,554.7" fill="none" stroke="#f2a43e" stroke-width="1.7" stroke-linejoin="round"/>
<text x="691.4" y="551.75" font-size="13.5" text-anchor="end" fill="#c4d6d6">0</text>
<text x="691.4" y="498.85" font-size="13.5" text-anchor="end" fill="#c4d6d6">100</text>
<text x="691.4" y="438.85" font-size="13.5" text-anchor="end" fill="#c4d6d6">200</text>
<text x="691.4" y="378.85" font-size="13.5" text-anchor="end" fill="#c4d6d6">300</text>
<text x="691.4" y="318.85" font-size="13.5" text-anchor="end" fill="#c4d6d6">400</text>
<text x="691.4" y="258.85" font-size="13.5" text-anchor="end" fill="#c4d6d6"></text>
<text x="689.5" y="262.6" font-size="12.6" text-anchor="end" fill="#c4d6d6">亿</text>
<text x="699.28" y="570.2" font-size="13.5" letter-spacing="0.32" text-anchor="middle" fill="#c4d6d6">2024/06/19</text>
<text x="792.1" y="570.2" font-size="13.5" letter-spacing="0.32" text-anchor="middle" fill="#c4d6d6">2024/08/19</text>
<text x="884.92" y="570.2" font-size="13.5" letter-spacing="0.32" text-anchor="middle" fill="#c4d6d6">2024/10/23</text>
<text x="977.74" y="570.2" font-size="13.5" letter-spacing="0.32" text-anchor="middle" fill="#c4d6d6">2024/12/23</text>
<text x="1070.56" y="570.2" font-size="13.5" letter-spacing="0.32" text-anchor="middle" fill="#c4d6d6">2025/02/27</text>
<text x="1163.39" y="570.2" font-size="13.5" letter-spacing="0.32" text-anchor="middle" fill="#c4d6d6">2025/04/29</text>
<rect x="917.2" y="585.2" width="12.3" height="2.3" rx="1" fill="#f2a43e"/>
<text x="935.7" y="590.1" font-size="12.7" fill="#c4d6d6">CFETS成交量</text>
<rect x="677.5" y="600.3" width="582.5" height="8.4" fill="#385a5f"/>
<rect x="666.25" y="598" width="25" height="12.8" rx="2.2" fill="#007b7b"/>
<path d="M676.15 602v4.8M681.05 602v4.8" stroke="#bfe6e2" stroke-width="1.4" fill="none"/>
<rect x="1234" y="598" width="25" height="12.8" rx="2.2" fill="#007b7b"/>
<path d="M1243.9 602v4.8M1248.8 602v4.8" stroke="#bfe6e2" stroke-width="1.4" fill="none"/>
<rect x="1275" y="210" width="614" height="410" rx="2.5" fill="#061d1f"/>
<text x="1283.6" y="237.4" font-size="17" font-weight="700" fill="#fff">换手率</text>
<circle cx="1346.2" cy="230.3" r="7.9" fill="none" stroke="#cfe3e3" stroke-width="1.4"/>
<text x="1346.2" y="234.5" font-size="12.5" font-weight="700" text-anchor="middle" fill="#dfe9e9" style="font-family:Liberation Serif,serif">i</text>
<rect x="1860.5" y="223.4" width="15.2" height="16.2" rx="2.8" fill="none" stroke="#cfe3e3" stroke-width="1.2"/>
<g stroke="#e6efef" stroke-width="1.3" fill="#e6efef" stroke-linejoin="round"><path d="M1864.9 235L1871.3 228" fill="none"/><path d="M1868.5 227h3.8v3.8z" stroke-width="0.8"/><path d="M1867.7 236h-3.8v-3.8z" stroke-width="0.8"/></g>
<rect x="1325.8" y="255.3" width="527.1" height="300" fill="#04181a"/>
<path d="M1325.8 254.5V554.7H1852.9" stroke="#3f5a5a" stroke-width="1.8" fill="none"/>

<path d="M1325.8 505.3H1852.9M1325.8 455.3H1852.9M1325.8 405.3H1852.9M1325.8 355.3H1852.9M1325.8 305.3H1852.9M1325.8 255.3H1852.9" stroke="#ffffff" stroke-width="1.7" fill="none" opacity="0.125"/>
<polyline points="1326.65,406.8 1328.98,391.13 1331.52,426.63 1333.42,405.3 1340.19,370.8 1342.1,469.8 1344.22,436.47 1346.12,433.13 1348.45,394.63 1350.36,405.3 1352.26,441.3 1354.59,418.13 1356.71,434.97 1358.82,410.97 1360.94,408.97 1363.06,448.63 1365.39,426.63 1367.29,423.13 1369.41,432.13 1371.52,410.97 1373.64,448.63 1375.76,409.63 1378.09,432.13 1379.99,439.8 1382.11,412.47 1384.23,426.63 1386.55,420.3 1388.46,418.97 1390.79,458.47 1392.69,430.8 1395.02,454.8 1396.93,453.47 1399.26,435.63 1401.16,451.97 1403.28,444.3 1405.39,458.47 1407.51,437.8 1409.84,439.3 1414.07,417.47 1415.98,459.63 1418.31,439.3 1420.21,448.63 1422.54,422.8 1424.66,416.13 1426.99,442.13 1428.89,432.13 1431.01,411.8 1433.13,381.3 1435.24,330.97 1437.36,428.47 1439.48,391.13 1441.38,392.63 1443.71,406.8 1445.61,399.63 1447.94,433.63 1449.85,437.8 1452.18,422.8 1454.08,427.97 1456.41,405.97 1458.32,425.13 1460.64,536.97 1462.55,427.97 1464.88,418.97 1466.78,436.47 1469.11,416.63 1471.02,403.97 1473.35,416.63 1475.25,362.97 1477.58,436.47 1479.91,511.47 1481.81,478.97 1483.72,442.13 1486.05,357.3 1488.38,292.13 1490.28,267.3 1492.19,508.63 1494.3,292.13 1496.42,328.97 1498.75,372.3 1500.65,370.8 1502.98,393.47 1505.31,396.8 1507.22,421.8 1509.12,393.97 1511.45,389.8 1513.78,418.97 1515.68,401.13 1517.8,380.8 1519.92,382.63 1522.03,408.13 1523.94,395.47 1525.84,362.97 1528.17,391.8 1530.5,375.63 1532.41,379.8 1534.73,416.63 1536.64,408.13 1538.97,399.63 1540.87,372.3 1543.2,415.3 1545.11,425.13 1547.44,387.8 1549.34,395.47 1551.25,406.8 1553.57,384.13 1555.9,410.97 1557.81,393.97 1560.14,413.8 1562.04,419.97 1564.37,399.13 1566.28,432.13 1568.6,393.97 1570.51,398.3 1572.63,420.3 1574.53,376.97 1576.86,444.97 1578.77,424.63 1580.67,416.13 1585.12,432.13 1589.56,395.8 1591.89,418.13 1593.8,414.97 1596.12,434.97 1598.03,427.97 1600.36,403.97 1602.26,399.13 1604.59,399.63 1608.83,408.97 1610.73,410.47 1613.06,488.8 1615.39,439.3 1617.29,448.63 1619.2,427.97 1621.53,418.97 1623.43,423.13 1625.55,397.63 1627.67,434.97 1629.99,447.13 1631.9,445.8 1634.02,448.63 1636.13,445.8 1638.25,463.3 1640.37,448.3 1642.48,453.47 1644.6,439.3 1646.93,416.13 1648.83,453.47 1650.95,529.8 1653.07,526.97 1655.18,515.63 1657.3,453.47 1659.42,429.3 1661.32,540.3 1663.65,434.47 1665.56,439.3 1667.89,425.97 1669.79,432.13 1672.12,456.8 1674.45,437.8 1676.35,450.63 1678.68,464.8 1680.59,442.13 1682.92,458.47 1684.82,436.47 1686.73,431.63 1689.05,401.13 1690.96,395.97 1693.29,455.47 1695.19,436.47 1697.52,422.3 1699.85,379.8 1701.76,352.47 1704.08,408.13 1705.99,425.13 1707.89,490.3 1710.01,405.3 1712.13,360.97 1714.46,368.63 1716.36,374.13 1718.69,381.8 1720.6,376.97 1722.92,314.13 1724.83,363.47 1726.95,360.63 1729.27,370.8 1731.18,375.13 1733.51,359.13 1735.41,413.8 1737.74,440.63 1739.65,442.13 1741.55,400.47 1743.88,413.8 1745.79,412.47 1748.12,449.97 1750.02,452.63 1752.35,447.8 1754.25,471.8 1756.58,434.97 1758.91,433.63 1760.82,434.13 1762.72,419.47 1765.05,453.47 1766.96,432.13 1769.28,427.97 1771.19,407.3 1773.52,433.63 1775.42,449.13 1777.75,540.3 1779.66,401.13 1781.98,386.13 1783.89,466.13 1786.22,474.63 1788.12,425.13 1790.45,393.97 1792.36,387.47 1794.47,395.97 1796.59,431.63 1798.71,416.13 1800.61,420.3 1802.94,451.97 1809.72,432.13 1811.62,434.97 1813.95,456.8 1817.97,415.3 1820.09,414.3 1822.21,442.13 1824.32,480.3 1828.34,434.13 1830.67,427.47 1832.79,441.47 1834.91,420.3 1839.14,399.13 1841.47,416.63 1843.37,436.47 1845.7,420.97 1847.61,416.63 1849.94,391.13 1851.84,483.47" fill="none" stroke="#f2a43e" stroke-width="1.7" stroke-linejoin="round"/>
<text x="1320" y="551.75" font-size="13.5" text-anchor="end" fill="#c4d6d6">0</text>
<text x="1320" y="508.85" font-size="13.5" text-anchor="end" fill="#c4d6d6">0.3</text>
<text x="1320" y="458.85" font-size="13.5" text-anchor="end" fill="#c4d6d6">0.6</text>
<text x="1320" y="408.85" font-size="13.5" text-anchor="end" fill="#c4d6d6">0.9</text>
<text x="1320" y="358.85" font-size="13.5" text-anchor="end" fill="#c4d6d6">1.2</text>
<text x="1320" y="308.85" font-size="13.5" text-anchor="end" fill="#c4d6d6">1.5</text>
<text x="1320" y="258.85" font-size="13.5" text-anchor="end" fill="#c4d6d6"></text>
<text x="1318.1" y="262.6" font-size="12.6" text-anchor="end" fill="#c4d6d6">%</text>
<text x="1326.86" y="570.2" font-size="13.5" letter-spacing="0.32" text-anchor="middle" fill="#c4d6d6">2024/06/19</text>
<text x="1420" y="570.2" font-size="13.5" letter-spacing="0.32" text-anchor="middle" fill="#c4d6d6">2024/08/20</text>
<text x="1513.14" y="570.2" font-size="13.5" letter-spacing="0.32" text-anchor="middle" fill="#c4d6d6">2024/10/25</text>
<text x="1606.28" y="570.2" font-size="13.5" letter-spacing="0.32" text-anchor="middle" fill="#c4d6d6">2024/12/26</text>
<text x="1699.43" y="570.2" font-size="13.5" letter-spacing="0.32" text-anchor="middle" fill="#c4d6d6">2025/03/05</text>
<text x="1792.57" y="570.2" font-size="13.5" letter-spacing="0.32" text-anchor="middle" fill="#c4d6d6">2025/05/09</text>
<rect x="1553.3" y="585.2" width="12.3" height="2.3" rx="1" fill="#f2a43e"/>
<text x="1571.7" y="590.1" font-size="12.7" fill="#c4d6d6">换手率</text>
<rect x="1295" y="600.3" width="584" height="8.4" fill="#385a5f"/>
<rect x="1283.75" y="598" width="25" height="12.8" rx="2.2" fill="#007b7b"/>
<path d="M1293.65 602v4.8M1298.55 602v4.8" stroke="#bfe6e2" stroke-width="1.4" fill="none"/>
<rect x="1853" y="598" width="25" height="12.8" rx="2.2" fill="#007b7b"/>
<path d="M1862.9 602v4.8M1867.8 602v4.8" stroke="#bfe6e2" stroke-width="1.4" fill="none"/>
<rect x="40" y="623.75" width="613" height="406.95" rx="2.5" fill="#061d1f"/>
<text x="48.6" y="651.25" font-size="17" font-weight="700" fill="#fff">经纪商<tspan font-family="Noto Sans CJK SC">‘</tspan>成交-估值<tspan font-family="Noto Sans CJK SC">’</tspan>偏离</text>
<circle cx="255.2" cy="644.15" r="7.9" fill="none" stroke="#cfe3e3" stroke-width="1.4"/>
<text x="255.2" y="648.35" font-size="12.5" font-weight="700" text-anchor="middle" fill="#dfe9e9" style="font-family:Liberation Serif,serif">i</text>
<rect x="523.4" y="632.45" width="86.5" height="24" rx="4" fill="none" stroke="#008080" stroke-width="1"/>
<path d="M527.4 632.45h39.6v24h-39.6a4 4 0 0 1-4-4v-16a4 4 0 0 1 4-4z" fill="#007b7b"/>
<g stroke="#cfeae8" fill="none" stroke-linecap="butt"><path d="M539.4 635.15v14.6h14.6" stroke-width="1.5"/><path d="M543 648.25v-8.7M547.2 648.25v-6.2M551.5 648.25v-10.9" stroke-width="1.9"/></g>
<g stroke="#cfeae8" fill="none" stroke-linejoin="round"><path d="M581.7 635.15v14.9h15.2" stroke-width="1.5"/><path d="M583.2 640.65l2.9 5.8l2.5-4.7l3.7 2.5l4-8.7" stroke-width="1.5"/></g>
<rect x="624.5" y="636.35" width="15.2" height="16.2" rx="2.8" fill="none" stroke="#cfe3e3" stroke-width="1.2"/>
<g stroke="#e6efef" stroke-width="1.3" fill="#e6efef" stroke-linejoin="round"><path d="M628.9 647.95L635.3 640.95" fill="none"/><path d="M632.5 639.95h3.8v3.8z" stroke-width="0.8"/><path d="M631.7 648.95h-3.8v-3.8z" stroke-width="0.8"/></g>
<rect x="97.6" y="667.9" width="520.6" height="300.1" fill="#04181a"/>
<path d="M97.6 667.1V967.4H618.2" stroke="#3f5a5a" stroke-width="1.8" fill="none"/>
<path d="M97.64 968h2.01V891.17h-2.01zM99.73 968h2.01V918.18h-2.01zM101.82 968h2.01V856.96h-2.01zM103.91 968h2.01V891.17h-2.01zM106 968h2.01V915.18h-2.01zM108.1 968h2.01V906.78h-2.01zM110.19 968h2.01V921.78h-2.01zM112.28 968h2.01V922.38h-2.01zM114.37 968h2.01V869.27h-2.01zM116.46 968h2.01V906.78h-2.01zM118.55 968h2.01V933.79h-2.01zM120.64 968h2.01V940.69h-2.01zM122.73 968h2.01V899.58h-2.01zM124.82 968h2.01V829.35h-2.01zM126.91 968h2.01V922.38h-2.01zM129 968h2.01V926.59h-2.01zM131.09 968h2.01V939.49h-2.01zM133.18 968h2.01V920.88h-2.01zM135.28 968h2.01V946.39h-2.01zM137.37 968h2.01V910.38h-2.01zM139.46 968h2.01V935.29h-2.01zM141.55 968h2.01V915.18h-2.01zM143.64 968h2.01V929.59h-2.01zM145.73 968h2.01V943.09h-2.01zM147.82 968h2.01V947.29h-2.01zM149.91 968h2.01V940.69h-2.01zM152 968h2.01V937.39h-2.01zM154.09 968h2.01V922.99h-2.01zM156.18 968h2.01V950.29h-2.01zM158.27 968h2.01V930.79h-2.01zM160.36 968h2.01V928.99h-2.01zM162.46 968h2.01V932.29h-2.01zM164.55 968h2.01V936.49h-2.01zM166.64 968h2.01V937.99h-2.01zM168.73 968h2.01V860.56h-2.01zM170.82 968h2.01V883.97h-2.01zM172.91 968h2.01V836.56h-2.01zM175 968h2.01V793.04h-2.01zM177.09 968h2.01V739.32h-2.01zM179.18 968h2.01V875.27h-2.01zM181.27 968h2.01V950.29h-2.01zM183.36 968h2.01V878.27h-2.01zM185.45 968h2.01V896.88h-2.01zM187.54 968h2.01V890.57h-2.01zM189.64 968h2.01V876.77h-2.01zM191.73 968h2.01V778.64h-2.01zM193.82 968h2.01V818.55h-2.01zM195.91 968h2.01V773.54h-2.01zM198 968h2.01V749.83h-2.01zM200.09 968h2.01V713.82h-2.01zM202.18 968h2.01V793.04h-2.01zM204.27 968h2.01V923.89h-2.01zM206.36 968h2.01V900.48h-2.01zM208.45 968h2.01V945.19h-2.01zM210.54 968h2.01V923.89h-2.01zM212.63 968h2.01V936.49h-2.01zM214.72 968h2.01V933.79h-2.01zM216.82 968h2.01V886.07h-2.01zM218.91 968h2.01V890.57h-2.01zM221 968h2.01V839.86h-2.01zM223.09 968h2.01V864.47h-2.01zM225.18 968h2.01V856.06h-2.01zM227.27 968h2.01V858.46h-2.01zM229.36 968h2.01V947.89h-2.01zM231.45 968h2.01V852.16h-2.01zM233.54 968h2.01V814.35h-2.01zM235.63 968h2.01V808.05h-2.01zM237.72 968h2.01V811.35h-2.01zM239.81 968h2.01V862.66h-2.01zM241.9 968h2.01V887.27h-2.01zM244 968h2.01V866.87h-2.01zM246.09 968h2.01V697.61h-2.01zM248.18 968h2.01V686.21h-2.01zM250.27 968h2.01V727.62h-2.01zM252.36 968h2.01V689.21h-2.01zM254.45 968h2.01V673h-2.01zM256.54 968h2.01V889.67h-2.01zM258.63 968h2.01V946.39h-2.01zM260.72 968h2.01V962.3h-2.01zM262.81 968h2.01V949.39h-2.01zM264.9 968h2.01V946.39h-2.01zM266.99 968h2.01V928.09h-2.01zM269.08 968h2.01V933.79h-2.01zM271.18 968h2.01V898.98h-2.01zM273.27 968h2.01V852.76h-2.01zM275.36 968h2.01V767.23h-2.01zM277.45 968h2.01V721.32h-2.01zM279.54 968h2.01V818.55h-2.01zM281.63 968h2.01V775.34h-2.01zM283.72 968h2.01V759.43h-2.01zM285.81 968h2.01V778.04h-2.01zM287.9 968h2.01V808.05h-2.01zM289.99 968h2.01V841.96h-2.01zM292.08 968h2.01V907.98h-2.01zM294.17 968h2.01V898.98h-2.01zM296.26 968h2.01V889.67h-2.01zM298.36 968h2.01V889.07h-2.01zM300.45 968h2.01V911.88h-2.01zM302.54 968h2.01V911.88h-2.01zM304.63 968h2.01V893.88h-2.01zM306.72 968h2.01V918.18h-2.01zM308.81 968h2.01V909.48h-2.01zM310.9 968h2.01V881.57h-2.01zM312.99 968h2.01V893.88h-2.01zM315.08 968h2.01V874.07h-2.01zM317.17 968h2.01V869.27h-2.01zM319.26 968h2.01V872.57h-2.01zM321.35 968h2.01V907.38h-2.01zM323.44 968h2.01V912.48h-2.01zM325.53 968h2.01V921.78h-2.01zM327.63 968h2.01V918.18h-2.01zM329.72 968h2.01V918.78h-2.01zM331.81 968h2.01V901.98h-2.01zM333.9 968h2.01V932.29h-2.01zM335.99 968h2.01V949.39h-2.01zM338.08 968h2.01V930.79h-2.01zM340.17 968h2.01V933.79h-2.01zM342.26 968h2.01V911.58h-2.01zM344.35 968h2.01V906.18h-2.01zM346.44 968h2.01V891.47h-2.01zM348.53 968h2.01V943.69h-2.01zM350.62 968h2.01V867.47h-2.01zM352.71 968h2.01V899.58h-2.01zM354.81 968h2.01V930.79h-2.01zM356.9 968h2.01V925.09h-2.01zM358.99 968h2.01V825.15h-2.01zM361.08 968h2.01V835.66h-2.01zM363.17 968h2.01V790.93h-2.01zM365.26 968h2.01V897.6h-2.01zM367.35 968h2.01V882.52h-2.01zM369.44 968h2.01V817.1h-2.01zM371.53 968h2.01V786.66h-2.01zM373.62 968h2.01V832.74h-2.01zM375.71 968h2.01V895.32h-2.01zM377.8 968h2.01V871.71h-2.01zM379.89 968h2.01V933.72h-2.01zM381.99 968h2.01V930.88h-2.01zM384.08 968h2.01V924.34h-2.01zM386.17 968h2.01V910.97h-2.01zM388.26 968h2.01V846.96h-2.01zM390.35 968h2.01V872h-2.01zM392.44 968h2.01V804.3h-2.01zM394.53 968h2.01V803.73h-2.01zM396.62 968h2.01V754.52h-2.01zM398.71 968h2.01V785.81h-2.01zM400.8 968h2.01V856.07h-2.01zM402.89 968h2.01V759.35h-2.01zM404.98 968h2.01V782.11h-2.01zM407.07 968h2.01V771.58h-2.01zM409.17 968h2.01V840.71h-2.01zM411.26 968h2.01V883.94h-2.01zM413.35 968h2.01V767.32h-2.01zM415.44 968h2.01V812.26h-2.01zM417.53 968h2.01V925.19h-2.01zM419.62 968h2.01V932.3h-2.01zM421.71 968h2.01V895.32h-2.01zM423.8 968h2.01V943.11h-2.01zM425.89 968h2.01V933.72h-2.01zM427.98 968h2.01V918.08h-2.01zM430.07 968h2.01V856.07h-2.01zM432.16 968h2.01V859.2h-2.01zM434.25 968h2.01V880.25h-2.01zM436.35 968h2.01V885.37h-2.01zM438.44 968h2.01V770.16h-2.01zM440.53 968h2.01V767.89h-2.01zM442.62 968h2.01V743.14h-2.01zM444.71 968h2.01V866.31h-2.01zM446.8 968h2.01V756.51h-2.01zM448.89 968h2.01V724.08h-2.01zM450.98 968h2.01V705.59h-2.01zM453.07 968h2.01V749.4h-2.01zM455.16 968h2.01V881.1h-2.01zM457.25 968h2.01V786.66h-2.01zM459.34 968h2.01V827.91h-2.01zM461.43 968h2.01V913.24h-2.01zM463.53 968h2.01V898.17h-2.01zM465.62 968h2.01V922.34h-2.01zM467.71 968h2.01V839h-2.01zM469.8 968h2.01V727.49h-2.01zM471.89 968h2.01V792.92h-2.01zM473.98 968h2.01V725.5h-2.01zM476.07 968h2.01V871.14h-2.01zM478.16 968h2.01V940.83h-2.01zM480.25 968h2.01V919.5h-2.01zM482.34 968h2.01V838.43h-2.01zM484.43 968h2.01V918.93h-2.01zM486.52 968h2.01V925.19h-2.01zM488.61 968h2.01V940.27h-2.01zM490.71 968h2.01V929.46h-2.01zM492.8 968h2.01V933.72h-2.01zM494.89 968h2.01V930.88h-2.01zM496.98 968h2.01V926.61h-2.01zM499.07 968h2.01V912.96h-2.01zM501.16 968h2.01V915.8h-2.01zM503.25 968h2.01V894.75h-2.01zM505.34 968h2.01V908.12h-2.01zM507.43 968h2.01V924.62h-2.01zM509.52 968h2.01V950.79h-2.01zM511.61 968h2.01V956.48h-2.01zM513.7 968h2.01V837.58h-2.01zM515.79 968h2.01V876.83h-2.01zM517.89 968h2.01V852.65h-2.01zM519.98 968h2.01V915.23h-2.01zM522.07 968h2.01V875.41h-2.01zM524.16 968h2.01V846.96h-2.01zM526.25 968h2.01V894.75h-2.01zM528.34 968h2.01V854.08h-2.01zM530.43 968h2.01V872.57h-2.01zM532.52 968h2.01V825.06h-2.01zM534.61 968h2.01V867.45h-2.01zM536.7 968h2.01V817.95h-2.01zM538.79 968h2.01V848.39h-2.01zM540.88 968h2.01V835.59h-2.01zM542.97 968h2.01V827.05h-2.01zM545.07 968h2.01V860.62h-2.01zM547.16 968h2.01V926.61h-2.01zM549.25 968h2.01V901.01h-2.01zM551.34 968h2.01V900.44h-2.01zM553.43 968h2.01V901.58h-2.01zM555.52 968h2.01V930.88h-2.01zM557.61 968h2.01V929.46h-2.01zM559.7 968h2.01V895.89h-2.01zM561.79 968h2.01V913.81h-2.01zM563.88 968h2.01V930.88h-2.01zM565.97 968h2.01V935.71h-2.01zM568.06 968h2.01V867.45h-2.01zM570.15 968h2.01V921.78h-2.01zM572.25 968h2.01V938.84h-2.01zM574.34 968h2.01V916.66h-2.01zM576.43 968h2.01V933.72h-2.01zM578.52 968h2.01V921.78h-2.01zM580.61 968h2.01V928.89h-2.01zM582.7 968h2.01V882.52h-2.01zM584.79 968h2.01V841.84h-2.01zM586.88 968h2.01V800.88h-2.01zM588.97 968h2.01V928.03h-2.01zM591.06 968h2.01V880.53h-2.01zM593.15 968h2.01V877.69h-2.01zM595.24 968h2.01V902.43h-2.01zM597.33 968h2.01V918.08h-2.01zM599.42 968h2.01V932.3h-2.01zM601.52 968h2.01V922.34h-2.01zM603.61 968h2.01V917.22h-2.01zM605.7 968h2.01V907.27h-2.01zM607.79 968h2.01V908.98h-2.01zM609.88 968h2.01V920.92h-2.01zM611.97 968h2.01V928.89h-2.01zM614.06 968h2.01V926.61h-2.01zM616.15 968h2.01V923.77h-2.01z" fill="#2a8661"/><path d="M97.64 891.17h2.01V667.9h-2.01zM99.73 918.18h2.01V667.9h-2.01zM101.82 856.96h2.01V667.9h-2.01zM103.91 891.17h2.01V667.9h-2.01zM106 915.18h2.01V667.9h-2.01zM108.1 906.78h2.01V667.9h-2.01zM110.19 921.78h2.01V667.9h-2.01zM112.28 922.38h2.01V667.9h-2.01zM114.37 869.27h2.01V667.9h-2.01zM116.46 906.78h2.01V667.9h-2.01zM118.55 933.79h2.01V667.9h-2.01zM120.64 940.69h2.01V667.9h-2.01zM122.73 899.58h2.01V667.9h-2.01zM124.82 829.35h2.01V667.9h-2.01zM126.91 922.38h2.01V667.9h-2.01zM129 926.59h2.01V667.9h-2.01zM131.09 939.49h2.01V667.9h-2.01zM133.18 920.88h2.01V667.9h-2.01zM135.28 946.39h2.01V667.9h-2.01zM137.37 910.38h2.01V667.9h-2.01zM139.46 935.29h2.01V667.9h-2.01zM141.55 915.18h2.01V667.9h-2.01zM143.64 929.59h2.01V667.9h-2.01zM145.73 943.09h2.01V667.9h-2.01zM147.82 947.29h2.01V667.9h-2.01zM149.91 940.69h2.01V667.9h-2.01zM152 937.39h2.01V667.9h-2.01zM154.09 922.99h2.01V667.9h-2.01zM156.18 950.29h2.01V667.9h-2.01zM158.27 930.79h2.01V667.9h-2.01zM160.36 928.99h2.01V667.9h-2.01zM162.46 932.29h2.01V667.9h-2.01zM164.55 936.49h2.01V667.9h-2.01zM166.64 937.99h2.01V667.9h-2.01zM168.73 860.56h2.01V667.9h-2.01zM170.82 883.97h2.01V667.9h-2.01zM172.91 836.56h2.01V667.9h-2.01zM175 793.04h2.01V667.9h-2.01zM177.09 739.32h2.01V667.9h-2.01zM179.18 875.27h2.01V667.9h-2.01zM181.27 950.29h2.01V667.9h-2.01zM183.36 878.27h2.01V667.9h-2.01zM185.45 896.88h2.01V667.9h-2.01zM187.54 890.57h2.01V667.9h-2.01zM189.64 876.77h2.01V667.9h-2.01zM191.73 778.64h2.01V667.9h-2.01zM193.82 818.55h2.01V667.9h-2.01zM195.91 773.54h2.01V667.9h-2.01zM198 749.83h2.01V667.9h-2.01zM200.09 713.82h2.01V667.9h-2.01zM202.18 793.04h2.01V667.9h-2.01zM204.27 923.89h2.01V667.9h-2.01zM206.36 900.48h2.01V667.9h-2.01zM208.45 945.19h2.01V667.9h-2.01zM210.54 923.89h2.01V667.9h-2.01zM212.63 936.49h2.01V667.9h-2.01zM214.72 933.79h2.01V667.9h-2.01zM216.82 886.07h2.01V667.9h-2.01zM218.91 890.57h2.01V667.9h-2.01zM221 839.86h2.01V667.9h-2.01zM223.09 864.47h2.01V667.9h-2.01zM225.18 856.06h2.01V667.9h-2.01zM227.27 858.46h2.01V667.9h-2.01zM229.36 947.89h2.01V667.9h-2.01zM231.45 852.16h2.01V667.9h-2.01zM233.54 814.35h2.01V667.9h-2.01zM235.63 808.05h2.01V667.9h-2.01zM237.72 811.35h2.01V667.9h-2.01zM239.81 862.66h2.01V667.9h-2.01zM241.9 887.27h2.01V667.9h-2.01zM244 866.87h2.01V667.9h-2.01zM246.09 697.61h2.01V667.9h-2.01zM248.18 686.21h2.01V667.9h-2.01zM250.27 727.62h2.01V667.9h-2.01zM252.36 689.21h2.01V667.9h-2.01zM254.45 673h2.01V667.9h-2.01zM256.54 889.67h2.01V667.9h-2.01zM258.63 946.39h2.01V667.9h-2.01zM260.72 962.3h2.01V667.9h-2.01zM262.81 949.39h2.01V667.9h-2.01zM264.9 946.39h2.01V667.9h-2.01zM266.99 928.09h2.01V667.9h-2.01zM269.08 933.79h2.01V667.9h-2.01zM271.18 898.98h2.01V667.9h-2.01zM273.27 852.76h2.01V667.9h-2.01zM275.36 767.23h2.01V667.9h-2.01zM277.45 721.32h2.01V667.9h-2.01zM279.54 818.55h2.01V667.9h-2.01zM281.63 775.34h2.01V667.9h-2.01zM283.72 759.43h2.01V667.9h-2.01zM285.81 778.04h2.01V667.9h-2.01zM287.9 808.05h2.01V667.9h-2.01zM289.99 841.96h2.01V667.9h-2.01zM292.08 907.98h2.01V667.9h-2.01zM294.17 898.98h2.01V667.9h-2.01zM296.26 889.67h2.01V667.9h-2.01zM298.36 889.07h2.01V667.9h-2.01zM300.45 911.88h2.01V667.9h-2.01zM302.54 911.88h2.01V667.9h-2.01zM304.63 893.88h2.01V667.9h-2.01zM306.72 918.18h2.01V667.9h-2.01zM308.81 909.48h2.01V667.9h-2.01zM310.9 881.57h2.01V667.9h-2.01zM312.99 893.88h2.01V667.9h-2.01zM315.08 874.07h2.01V667.9h-2.01zM317.17 869.27h2.01V667.9h-2.01zM319.26 872.57h2.01V667.9h-2.01zM321.35 907.38h2.01V667.9h-2.01zM323.44 912.48h2.01V667.9h-2.01zM325.53 921.78h2.01V667.9h-2.01zM327.63 918.18h2.01V667.9h-2.01zM329.72 918.78h2.01V667.9h-2.01zM331.81 901.98h2.01V667.9h-2.01zM333.9 932.29h2.01V667.9h-2.01zM335.99 949.39h2.01V667.9h-2.01zM338.08 930.79h2.01V667.9h-2.01zM340.17 933.79h2.01V667.9h-2.01zM342.26 911.58h2.01V667.9h-2.01zM344.35 906.18h2.01V667.9h-2.01zM346.44 891.47h2.01V667.9h-2.01zM348.53 943.69h2.01V667.9h-2.01zM350.62 867.47h2.01V667.9h-2.01zM352.71 899.58h2.01V667.9h-2.01zM354.81 930.79h2.01V667.9h-2.01zM356.9 925.09h2.01V667.9h-2.01zM358.99 825.15h2.01V667.9h-2.01zM361.08 835.66h2.01V667.9h-2.01zM363.17 790.93h2.01V667.9h-2.01zM365.26 897.6h2.01V667.9h-2.01zM367.35 882.52h2.01V667.9h-2.01zM369.44 817.1h2.01V667.9h-2.01zM371.53 786.66h2.01V667.9h-2.01zM373.62 832.74h2.01V667.9h-2.01zM375.71 895.32h2.01V667.9h-2.01zM377.8 871.71h2.01V667.9h-2.01zM379.89 933.72h2.01V667.9h-2.01zM381.99 930.88h2.01V667.9h-2.01zM384.08 924.34h2.01V667.9h-2.01zM386.17 910.97h2.01V667.9h-2.01zM388.26 846.96h2.01V667.9h-2.01zM390.35 872h2.01V667.9h-2.01zM392.44 804.3h2.01V667.9h-2.01zM394.53 803.73h2.01V667.9h-2.01zM396.62 754.52h2.01V667.9h-2.01zM398.71 785.81h2.01V667.9h-2.01zM400.8 856.07h2.01V667.9h-2.01zM402.89 759.35h2.01V667.9h-2.01zM404.98 782.11h2.01V667.9h-2.01zM407.07 771.58h2.01V667.9h-2.01zM409.17 840.71h2.01V667.9h-2.01zM411.26 883.94h2.01V667.9h-2.01zM413.35 767.32h2.01V667.9h-2.01zM415.44 812.26h2.01V667.9h-2.01zM417.53 925.19h2.01V667.9h-2.01zM419.62 932.3h2.01V667.9h-2.01zM421.71 895.32h2.01V667.9h-2.01zM423.8 943.11h2.01V667.9h-2.01zM425.89 933.72h2.01V667.9h-2.01zM427.98 918.08h2.01V667.9h-2.01zM430.07 856.07h2.01V667.9h-2.01zM432.16 859.2h2.01V667.9h-2.01zM434.25 880.25h2.01V667.9h-2.01zM436.35 885.37h2.01V667.9h-2.01zM438.44 770.16h2.01V667.9h-2.01zM440.53 767.89h2.01V667.9h-2.01zM442.62 743.14h2.01V667.9h-2.01zM444.71 866.31h2.01V667.9h-2.01zM446.8 756.51h2.01V667.9h-2.01zM448.89 724.08h2.01V667.9h-2.01zM450.98 705.59h2.01V667.9h-2.01zM453.07 749.4h2.01V667.9h-2.01zM455.16 881.1h2.01V667.9h-2.01zM457.25 786.66h2.01V667.9h-2.01zM459.34 827.91h2.01V667.9h-2.01zM461.43 913.24h2.01V667.9h-2.01zM463.53 898.17h2.01V667.9h-2.01zM465.62 922.34h2.01V667.9h-2.01zM467.71 839h2.01V667.9h-2.01zM469.8 727.49h2.01V667.9h-2.01zM471.89 792.92h2.01V667.9h-2.01zM473.98 725.5h2.01V667.9h-2.01zM476.07 871.14h2.01V667.9h-2.01zM478.16 940.83h2.01V667.9h-2.01zM480.25 919.5h2.01V667.9h-2.01zM482.34 838.43h2.01V667.9h-2.01zM484.43 918.93h2.01V667.9h-2.01zM486.52 925.19h2.01V667.9h-2.01zM488.61 940.27h2.01V667.9h-2.01zM490.71 929.46h2.01V667.9h-2.01zM492.8 933.72h2.01V667.9h-2.01zM494.89 930.88h2.01V667.9h-2.01zM496.98 926.61h2.01V667.9h-2.01zM499.07 912.96h2.01V667.9h-2.01zM501.16 915.8h2.01V667.9h-2.01zM503.25 894.75h2.01V667.9h-2.01zM505.34 908.12h2.01V667.9h-2.01zM507.43 924.62h2.01V667.9h-2.01zM509.52 950.79h2.01V667.9h-2.01zM511.61 956.48h2.01V667.9h-2.01zM513.7 837.58h2.01V667.9h-2.01zM515.79 876.83h2.01V667.9h-2.01zM517.89 852.65h2.01V667.9h-2.01zM519.98 915.23h2.01V667.9h-2.01zM522.07 875.41h2.01V667.9h-2.01zM524.16 846.96h2.01V667.9h-2.01zM526.25 894.75h2.01V667.9h-2.01zM528.34 854.08h2.01V667.9h-2.01zM530.43 872.57h2.01V667.9h-2.01zM532.52 825.06h2.01V667.9h-2.01zM534.61 867.45h2.01V667.9h-2.01zM536.7 817.95h2.01V667.9h-2.01zM538.79 848.39h2.01V667.9h-2.01zM540.88 835.59h2.01V667.9h-2.01zM542.97 827.05h2.01V667.9h-2.01zM545.07 860.62h2.01V667.9h-2.01zM547.16 926.61h2.01V667.9h-2.01zM549.25 901.01h2.01V667.9h-2.01zM551.34 900.44h2.01V667.9h-2.01zM553.43 901.58h2.01V667.9h-2.01zM555.52 930.88h2.01V667.9h-2.01zM557.61 929.46h2.01V667.9h-2.01zM559.7 895.89h2.01V667.9h-2.01zM561.79 913.81h2.01V667.9h-2.01zM563.88 930.88h2.01V667.9h-2.01zM565.97 935.71h2.01V667.9h-2.01zM568.06 867.45h2.01V667.9h-2.01zM570.15 921.78h2.01V667.9h-2.01zM572.25 938.84h2.01V667.9h-2.01zM574.34 916.66h2.01V667.9h-2.01zM576.43 933.72h2.01V667.9h-2.01zM578.52 921.78h2.01V667.9h-2.01zM580.61 928.89h2.01V667.9h-2.01zM582.7 882.52h2.01V667.9h-2.01zM584.79 841.84h2.01V667.9h-2.01zM586.88 800.88h2.01V667.9h-2.01zM588.97 928.03h2.01V667.9h-2.01zM591.06 880.53h2.01V667.9h-2.01zM593.15 877.69h2.01V667.9h-2.01zM595.24 902.43h2.01V667.9h-2.01zM597.33 918.08h2.01V667.9h-2.01zM599.42 932.3h2.01V667.9h-2.01zM601.52 922.34h2.01V667.9h-2.01zM603.61 917.22h2.01V667.9h-2.01zM605.7 907.27h2.01V667.9h-2.01zM607.79 908.98h2.01V667.9h-2.01zM609.88 920.92h2.01V667.9h-2.01zM611.97 928.89h2.01V667.9h-2.01zM614.06 926.61h2.01V667.9h-2.01zM616.15 923.77h2.01V667.9h-2.01z" fill="#9c423a"/>
<path d="M97.6 817.95H618.2" stroke="#f0dcb4" stroke-width="2.4" stroke-dasharray="0.1 4.33" stroke-linecap="round" fill="none"/><rect x="61.2" y="809.15" width="34.6" height="17.4" rx="2" fill="#f9dca8"/><text x="78.4" y="822.35" font-size="12.6" text-anchor="middle" fill="#6b5a3a">50%</text>
<path d="M97.6 907.98H618.2M97.6 847.96H618.2M97.6 787.94H618.2M97.6 727.92H618.2M97.6 667.9H618.2" stroke="#ffffff" stroke-width="1.7" fill="none" opacity="0.125"/>
<text x="91.2" y="965.25" font-size="13.5" text-anchor="end" fill="#c4d6d6">0%</text>
<text x="91.2" y="911.53" font-size="13.5" text-anchor="end" fill="#c4d6d6">20%</text>
<text x="91.2" y="851.51" font-size="13.5" text-anchor="end" fill="#c4d6d6">40%</text>
<text x="91.2" y="791.49" font-size="13.5" text-anchor="end" fill="#c4d6d6">60%</text>
<text x="91.2" y="731.47" font-size="13.5" text-anchor="end" fill="#c4d6d6">80%</text>
<text x="91.2" y="678.45" font-size="13.5" text-anchor="end" fill="#c4d6d6">100%</text>
<text x="98.65" y="983.95" font-size="13.5" letter-spacing="0.32" text-anchor="middle" fill="#c4d6d6">2024/06/19</text>
<text x="192.73" y="983.95" font-size="13.5" letter-spacing="0.32" text-anchor="middle" fill="#c4d6d6">2024/08/21</text>
<text x="286.81" y="983.95" font-size="13.5" letter-spacing="0.32" text-anchor="middle" fill="#c4d6d6">2024/10/29</text>
<text x="380.9" y="983.95" font-size="13.5" letter-spacing="0.32" text-anchor="middle" fill="#c4d6d6">2024/12/31</text>
<text x="474.98" y="983.95" font-size="13.5" letter-spacing="0.32" text-anchor="middle" fill="#c4d6d6">2025/03/11</text>
<text x="569.07" y="983.95" font-size="13.5" letter-spacing="0.32" text-anchor="middle" fill="#c4d6d6">2025/05/16</text>
<rect x="254.3" y="993.45" width="12.6" height="12.8" rx="2.6" fill="#36a877"/>
<text x="272.4" y="1004.45" font-size="12.7" fill="#c4d6d6">高估值成交</text>
<rect x="357.3" y="993.45" width="12.6" height="12.8" rx="2.6" fill="#cf4c40"/>
<text x="375.4" y="1004.45" font-size="12.7" fill="#c4d6d6">低估值成交</text>
<rect x="60" y="1013.25" width="583" height="8.4" fill="#385a5f"/>
<rect x="48.75" y="1010.95" width="25" height="12.8" rx="2.2" fill="#007b7b"/>
<path d="M58.65 1014.95v4.8M63.55 1014.95v4.8" stroke="#bfe6e2" stroke-width="1.4" fill="none"/>
<rect x="617" y="1010.95" width="25" height="12.8" rx="2.2" fill="#007b7b"/>
<path d="M626.9 1014.95v4.8M631.8 1014.95v4.8" stroke="#bfe6e2" stroke-width="1.4" fill="none"/>
<rect x="657.5" y="623.75" width="612.5" height="406.95" rx="2.5" fill="#061d1f"/>
<text x="666.1" y="651.25" font-size="17" font-weight="700" fill="#fff">经纪商报价笔数</text>
<circle cx="797.7" cy="644.15" r="7.9" fill="none" stroke="#cfe3e3" stroke-width="1.4"/>
<text x="797.7" y="648.35" font-size="12.5" font-weight="700" text-anchor="middle" fill="#dfe9e9" style="font-family:Liberation Serif,serif">i</text>
<rect x="1140.4" y="632.45" width="86.5" height="24" rx="4" fill="none" stroke="#008080" stroke-width="1"/>
<path d="M1144.4 632.45h39.6v24h-39.6a4 4 0 0 1-4-4v-16a4 4 0 0 1 4-4z" fill="#007b7b"/>
<g stroke="#cfeae8" fill="none" stroke-linecap="butt"><path d="M1156.4 635.15v14.6h14.6" stroke-width="1.5"/><path d="M1160 648.25v-8.7M1164.2 648.25v-6.2M1168.5 648.25v-10.9" stroke-width="1.9"/></g>
<g stroke="#cfeae8" fill="none" stroke-linejoin="round"><path d="M1198.7 635.15v14.9h15.2" stroke-width="1.5"/><path d="M1200.2 640.65l2.9 5.8l2.5-4.7l3.7 2.5l4-8.7" stroke-width="1.5"/></g>
<rect x="1241.5" y="636.35" width="15.2" height="16.2" rx="2.8" fill="none" stroke="#cfe3e3" stroke-width="1.2"/>
<g stroke="#e6efef" stroke-width="1.3" fill="#e6efef" stroke-linejoin="round"><path d="M1245.9 647.95L1252.3 640.95" fill="none"/><path d="M1249.5 639.95h3.8v3.8z" stroke-width="0.8"/><path d="M1248.7 648.95h-3.8v-3.8z" stroke-width="0.8"/></g>
<rect x="726.5" y="667.9" width="509.2" height="300.1" fill="#04181a"/>
<path d="M726 667.1V967.4H1235.7" stroke="#3f5a5a" stroke-width="1.8" fill="none"/>

<path d="M726.66 968h1.72V923.63h-1.72zM728.71 968h1.72V923.63h-1.72zM730.75 968h1.72V924.94h-1.72zM732.8 968h1.72V922.32h-1.72zM734.84 968h1.72V922.32h-1.72zM736.89 968h1.72V921.8h-1.72zM738.93 968h1.72V926.25h-1.72zM740.98 968h1.72V932.8h-1.72zM743.02 968h1.72V924.94h-1.72zM745.07 968h1.72V921.01h-1.72zM747.11 968h1.72V919.7h-1.72zM749.16 968h1.72V921.01h-1.72zM751.2 968h1.72V922.84h-1.72zM753.25 968h1.72V919.7h-1.72zM755.29 968h1.72V917.6h-1.72zM757.34 968h1.72V917.6h-1.72zM759.38 968h1.72V919.7h-1.72zM761.43 968h1.72V921.01h-1.72zM763.47 968h1.72V919.7h-1.72zM765.52 968h1.72V921.01h-1.72zM767.56 968h1.72V923.63h-1.72zM769.61 968h1.72V924.94h-1.72zM771.65 968h1.72V923.63h-1.72zM773.7 968h1.72V926.25h-1.72zM775.74 968h1.72V926.25h-1.72zM777.79 968h1.72V925.73h-1.72zM779.83 968h1.72V931.49h-1.72zM781.88 968h1.72V932.8h-1.72zM783.92 968h1.72V932.8h-1.72zM785.97 968h1.72V930.71h-1.72zM788.01 968h1.72V931.49h-1.72zM790.06 968h1.72V932.8h-1.72zM792.1 968h1.72V934.9h-1.72zM794.15 968h1.72V931.49h-1.72zM796.19 968h1.72V932.28h-1.72zM798.24 968h1.72V929.66h-1.72zM800.28 968h1.72V928.87h-1.72zM802.33 968h1.72V932.8h-1.72zM804.37 968h1.72V910.53h-1.72zM806.42 968h1.72V892.18h-1.72zM808.46 968h1.72V919.7h-1.72zM810.51 968h1.72V924.94h-1.72zM812.55 968h1.72V928.87h-1.72zM814.6 968h1.72V914.46h-1.72zM816.64 968h1.72V907.91h-1.72zM818.69 968h1.72V901.35h-1.72zM820.73 968h1.72V903.98h-1.72zM822.78 968h1.72V897.42h-1.72zM824.82 968h1.72V883.01h-1.72zM826.87 968h1.72V864.66h-1.72zM828.91 968h1.72V847.63h-1.72zM830.96 968h1.72V898.73h-1.72zM833 968h1.72V909.22h-1.72zM835.05 968h1.72V914.46h-1.72zM837.09 968h1.72V911.84h-1.72zM839.14 968h1.72V918.39h-1.72zM841.18 968h1.72V921.01h-1.72zM843.23 968h1.72V922.32h-1.72zM845.27 968h1.72V918.39h-1.72zM847.32 968h1.72V914.46h-1.72zM849.36 968h1.72V910.53h-1.72zM851.41 968h1.72V907.91h-1.72zM853.45 968h1.72V913.15h-1.72zM855.5 968h1.72V962.94h-1.72zM857.54 968h1.72V911.84h-1.72zM859.59 968h1.72V910.53h-1.72zM861.63 968h1.72V906.6h-1.72zM863.68 968h1.72V897.42h-1.72zM865.72 968h1.72V896.11h-1.72zM867.77 968h1.72V896.11h-1.72zM869.81 968h1.72V913.15h-1.72zM871.86 968h1.72V919.7h-1.72zM873.9 968h1.72V940.67h-1.72zM875.95 968h1.72V883.01h-1.72zM877.99 968h1.72V872.53h-1.72zM880.04 968h1.72V847.63h-1.72zM882.08 968h1.72V792.59h-1.72zM884.13 968h1.72V877.77h-1.72zM886.17 968h1.72V945.91h-1.72zM888.22 968h1.72V906.6h-1.72zM890.26 968h1.72V909.22h-1.72zM892.31 968h1.72V907.91h-1.72zM894.35 968h1.72V907.91h-1.72zM896.4 968h1.72V913.15h-1.72zM898.44 968h1.72V903.98h-1.72zM900.49 968h1.72V894.8h-1.72zM902.53 968h1.72V873.84h-1.72zM904.58 968h1.72V881.7h-1.72zM906.62 968h1.72V893.49h-1.72zM908.67 968h1.72V889.56h-1.72zM910.71 968h1.72V880.39h-1.72zM912.76 968h1.72V886.94h-1.72zM914.8 968h1.72V883.01h-1.72zM916.85 968h1.72V888.25h-1.72zM918.89 968h1.72V901.35h-1.72zM920.94 968h1.72V900.04h-1.72zM922.98 968h1.72V901.35h-1.72zM925.03 968h1.72V900.04h-1.72zM927.07 968h1.72V903.98h-1.72zM929.12 968h1.72V901.35h-1.72zM931.16 968h1.72V902.67h-1.72zM933.21 968h1.72V906.6h-1.72zM935.25 968h1.72V907.91h-1.72zM937.3 968h1.72V909.22h-1.72zM939.34 968h1.72V910.53h-1.72zM941.39 968h1.72V903.98h-1.72zM943.43 968h1.72V905.29h-1.72zM945.48 968h1.72V901.35h-1.72zM947.52 968h1.72V906.6h-1.72zM949.57 968h1.72V903.98h-1.72zM951.61 968h1.72V910.53h-1.72zM953.66 968h1.72V913.15h-1.72zM955.7 968h1.72V914.46h-1.72zM957.75 968h1.72V915.77h-1.72zM959.79 968h1.72V917.08h-1.72zM961.84 968h1.72V926.25h-1.72zM963.88 968h1.72V921.01h-1.72zM965.93 968h1.72V923.63h-1.72zM967.97 968h1.72V926.25h-1.72zM970.02 968h1.72V915.77h-1.72zM972.06 968h1.72V922.32h-1.72zM974.11 968h1.72V923.63h-1.72zM976.15 968h1.72V918.39h-1.72zM978.2 968h1.72V922.32h-1.72zM980.24 968h1.72V924.94h-1.72zM982.29 968h1.72V919.7h-1.72zM984.33 968h1.72V913.15h-1.72zM986.38 968h1.72V900.04h-1.72zM988.42 968h1.72V897.42h-1.72zM990.47 968h1.72V901.35h-1.72zM992.51 968h1.72V910.53h-1.72zM994.56 968h1.72V911.84h-1.72zM996.6 968h1.72V913.15h-1.72zM998.65 968h1.72V914.46h-1.72zM1000.69 968h1.72V915.77h-1.72zM1002.74 968h1.72V924.94h-1.72zM1004.78 968h1.72V928.87h-1.72zM1006.83 968h1.72V922.32h-1.72zM1008.87 968h1.72V930.18h-1.72zM1010.92 968h1.72V923.63h-1.72zM1012.96 968h1.72V922.32h-1.72zM1015.01 968h1.72V921.01h-1.72zM1017.05 968h1.72V922.32h-1.72zM1019.1 968h1.72V927.56h-1.72zM1021.14 968h1.72V919.7h-1.72zM1023.19 968h1.72V914.46h-1.72zM1025.23 968h1.72V915.77h-1.72zM1027.28 968h1.72V913.15h-1.72zM1029.32 968h1.72V917.08h-1.72zM1031.37 968h1.72V910.53h-1.72zM1033.41 968h1.72V906.6h-1.72zM1035.46 968h1.72V915.77h-1.72zM1037.5 968h1.72V926.25h-1.72zM1039.55 968h1.72V940.67h-1.72zM1041.59 968h1.72V966.87h-1.72zM1043.64 968h1.72V959.01h-1.72zM1045.68 968h1.72V927.56h-1.72zM1047.73 968h1.72V917.6h-1.72zM1049.77 968h1.72V924.42h-1.72zM1051.82 968h1.72V965.56h-1.72zM1053.86 968h1.72V918.39h-1.72zM1055.91 968h1.72V913.15h-1.72zM1057.95 968h1.72V914.46h-1.72zM1060 968h1.72V915.77h-1.72zM1062.04 968h1.72V914.46h-1.72zM1064.09 968h1.72V911.84h-1.72zM1066.13 968h1.72V909.22h-1.72zM1068.18 968h1.72V908.69h-1.72zM1070.22 968h1.72V907.91h-1.72zM1072.27 968h1.72V906.6h-1.72zM1074.31 968h1.72V897.42h-1.72zM1076.36 968h1.72V894.8h-1.72zM1078.4 968h1.72V889.56h-1.72zM1080.45 968h1.72V908.69h-1.72zM1082.49 968h1.72V904.5h-1.72zM1084.54 968h1.72V903.98h-1.72zM1086.58 968h1.72V911.84h-1.72zM1088.63 968h1.72V914.98h-1.72zM1090.67 968h1.72V919.7h-1.72zM1092.72 968h1.72V918.39h-1.72zM1094.76 968h1.72V904.5h-1.72zM1096.8 968h1.72V903.45h-1.72zM1098.85 968h1.72V893.49h-1.72zM1100.89 968h1.72V910.53h-1.72zM1102.94 968h1.72V914.98h-1.72zM1104.98 968h1.72V914.46h-1.72zM1107.03 968h1.72V913.15h-1.72zM1109.07 968h1.72V911.84h-1.72zM1111.12 968h1.72V918.39h-1.72zM1113.16 968h1.72V929.66h-1.72zM1115.21 968h1.72V922.32h-1.72zM1117.25 968h1.72V924.94h-1.72zM1119.3 968h1.72V919.18h-1.72zM1121.34 968h1.72V921.01h-1.72zM1123.39 968h1.72V926.25h-1.72zM1125.43 968h1.72V921.01h-1.72zM1127.48 968h1.72V909.22h-1.72zM1129.52 968h1.72V911.84h-1.72zM1131.57 968h1.72V931.49h-1.72zM1133.61 968h1.72V934.9h-1.72zM1135.66 968h1.72V917.08h-1.72zM1137.7 968h1.72V907.91h-1.72zM1139.75 968h1.72V907.12h-1.72zM1141.79 968h1.72V908.69h-1.72zM1143.84 968h1.72V907.91h-1.72zM1145.88 968h1.72V905.29h-1.72zM1147.93 968h1.72V900.83h-1.72zM1149.97 968h1.72V901.88h-1.72zM1152.02 968h1.72V900.83h-1.72zM1154.06 968h1.72V898.21h-1.72zM1156.11 968h1.72V896.11h-1.72zM1158.15 968h1.72V898.21h-1.72zM1160.2 968h1.72V899.26h-1.72zM1162.24 968h1.72V904.5h-1.72zM1164.29 968h1.72V959.54h-1.72zM1166.33 968h1.72V898.73h-1.72zM1168.38 968h1.72V911.31h-1.72zM1170.42 968h1.72V928.87h-1.72zM1172.47 968h1.72V913.15h-1.72zM1174.51 968h1.72V908.69h-1.72zM1176.56 968h1.72V906.6h-1.72zM1178.6 968h1.72V908.69h-1.72zM1180.65 968h1.72V911.84h-1.72zM1182.69 968h1.72V909.22h-1.72zM1184.74 968h1.72V910.53h-1.72zM1186.78 968h1.72V912.36h-1.72zM1188.83 968h1.72V914.46h-1.72zM1190.87 968h1.72V911.84h-1.72zM1192.92 968h1.72V915.77h-1.72zM1194.96 968h1.72V916.56h-1.72zM1197.01 968h1.72V918.39h-1.72zM1199.05 968h1.72V918.39h-1.72zM1201.1 968h1.72V914.46h-1.72zM1203.14 968h1.72V906.6h-1.72zM1205.19 968h1.72V909.22h-1.72zM1207.23 968h1.72V910.53h-1.72zM1209.28 968h1.72V915.77h-1.72zM1211.32 968h1.72V912.36h-1.72zM1213.37 968h1.72V908.69h-1.72zM1215.41 968h1.72V907.91h-1.72zM1217.46 968h1.72V913.15h-1.72zM1219.5 968h1.72V911.31h-1.72zM1221.55 968h1.72V911.84h-1.72zM1223.59 968h1.72V911.31h-1.72zM1225.64 968h1.72V913.15h-1.72zM1227.68 968h1.72V913.93h-1.72zM1229.73 968h1.72V909.74h-1.72zM1231.77 968h1.72V909.22h-1.72zM1233.82 968h1.72V913.93h-1.72z" fill="#3496ce"/><path d="M726.66 923.63h1.72V893.49h-1.72zM728.71 923.63h1.72V896.11h-1.72zM730.75 924.94h1.72V901.35h-1.72zM732.8 922.32h1.72V894.8h-1.72zM734.84 922.32h1.72V892.18h-1.72zM736.89 921.8h1.72V891.4h-1.72zM738.93 926.25h1.72V903.98h-1.72zM740.98 932.8h1.72V913.15h-1.72zM743.02 924.94h1.72V901.35h-1.72zM745.07 921.01h1.72V893.49h-1.72zM747.11 919.7h1.72V891.4h-1.72zM749.16 921.01h1.72V895.59h-1.72zM751.2 922.84h1.72V897.42h-1.72zM753.25 919.7h1.72V892.18h-1.72zM755.29 917.6h1.72V886.94h-1.72zM757.34 917.6h1.72V884.32h-1.72zM759.38 919.7h1.72V888.78h-1.72zM761.43 921.01h1.72V890.87h-1.72zM763.47 919.7h1.72V887.46h-1.72zM765.52 921.01h1.72V888.78h-1.72zM767.56 923.63h1.72V894.8h-1.72zM769.61 924.94h1.72V894.02h-1.72zM771.65 923.63h1.72V892.97h-1.72zM773.7 926.25h1.72V897.42h-1.72zM775.74 926.25h1.72V898.73h-1.72zM777.79 925.73h1.72V897.95h-1.72zM779.83 931.49h1.72V906.6h-1.72zM781.88 932.8h1.72V907.12h-1.72zM783.92 932.8h1.72V906.6h-1.72zM785.97 930.71h1.72V903.45h-1.72zM788.01 931.49h1.72V903.98h-1.72zM790.06 932.8h1.72V906.6h-1.72zM792.1 934.9h1.72V913.15h-1.72zM794.15 931.49h1.72V906.6h-1.72zM796.19 932.28h1.72V907.91h-1.72zM798.24 929.66h1.72V902.67h-1.72zM800.28 928.87h1.72V901.88h-1.72zM802.33 932.8h1.72V907.12h-1.72zM804.37 910.53h1.72V889.56h-1.72zM806.42 892.18h1.72V859.95h-1.72zM808.46 919.7h1.72V896.11h-1.72zM810.51 924.94h1.72V903.98h-1.72zM812.55 928.87h1.72V909.74h-1.72zM814.6 914.46h1.72V886.94h-1.72zM816.64 907.91h1.72V877.77h-1.72zM818.69 901.35h1.72V870.43h-1.72zM820.73 903.98h1.72V874.62h-1.72zM822.78 897.42h1.72V868.07h-1.72zM824.82 883.01h1.72V850.25h-1.72zM826.87 864.66h1.72V824.04h-1.72zM828.91 847.63h1.72V785.52h-1.72zM830.96 898.73h1.72V876.46h-1.72zM833 909.22h1.72V885.63h-1.72zM835.05 914.46h1.72V876.46h-1.72zM837.09 911.84h1.72V890.35h-1.72zM839.14 918.39h1.72V888.78h-1.72zM841.18 921.01h1.72V897.42h-1.72zM843.23 922.32h1.72V901.88h-1.72zM845.27 918.39h1.72V896.9h-1.72zM847.32 914.46h1.72V892.97h-1.72zM849.36 910.53h1.72V886.94h-1.72zM851.41 907.91h1.72V883.53h-1.72zM853.45 913.15h1.72V890.87h-1.72zM855.5 962.94h1.72V961.63h-1.72zM857.54 911.84h1.72V892.18h-1.72zM859.59 910.53h1.72V890.87h-1.72zM861.63 906.6h1.72V885.11h-1.72zM863.68 897.42h1.72V870.43h-1.72zM865.72 896.11h1.72V868.6h-1.72zM867.77 896.11h1.72V865.97h-1.72zM869.81 913.15h1.72V891.4h-1.72zM871.86 919.7h1.72V907.91h-1.72zM873.9 940.67h1.72V938.05h-1.72zM875.95 883.01h1.72V864.14h-1.72zM877.99 872.53h1.72V854.71h-1.72zM880.04 847.63h1.72V800.46h-1.72zM882.08 792.59h1.72V696.41h-1.72zM884.13 877.77h1.72V820.9h-1.72zM886.17 945.91h1.72V932.28h-1.72zM888.22 906.6h1.72V858.11h-1.72zM890.26 909.22h1.72V864.14h-1.72zM892.31 907.91h1.72V866.76h-1.72zM894.35 907.91h1.72V868.6h-1.72zM896.4 913.15h1.72V875.15h-1.72zM898.44 903.98h1.72V877.77h-1.72zM900.49 894.8h1.72V864.66h-1.72zM902.53 873.84h1.72V839.77h-1.72zM904.58 881.7h1.72V847.63h-1.72zM906.62 893.49h1.72V859.42h-1.72zM908.67 889.56h1.72V858.11h-1.72zM910.71 880.39h1.72V845.01h-1.72zM912.76 886.94h1.72V851.56h-1.72zM914.8 883.01h1.72V842.39h-1.72zM916.85 888.25h1.72V841.86h-1.72zM918.89 901.35h1.72V868.6h-1.72zM920.94 900.04h1.72V864.14h-1.72zM922.98 901.35h1.72V862.04h-1.72zM925.03 900.04h1.72V861.52h-1.72zM927.07 903.98h1.72V867.29h-1.72zM929.12 901.35h1.72V860.73h-1.72zM931.16 902.67h1.72V862.04h-1.72zM933.21 906.6h1.72V864.14h-1.72zM935.25 907.91h1.72V870.43h-1.72zM937.3 909.22h1.72V873.84h-1.72zM939.34 910.53h1.72V876.46h-1.72zM941.39 903.98h1.72V864.66h-1.72zM943.43 905.29h1.72V867.29h-1.72zM945.48 901.35h1.72V856.8h-1.72zM947.52 906.6h1.72V869.91h-1.72zM949.57 903.98h1.72V862.04h-1.72zM951.61 910.53h1.72V875.15h-1.72zM953.66 913.15h1.72V878.29h-1.72zM955.7 914.46h1.72V879.86h-1.72zM957.75 915.77h1.72V881.7h-1.72zM959.79 917.08h1.72V882.49h-1.72zM961.84 926.25h1.72V897.42h-1.72zM963.88 921.01h1.72V886.94h-1.72zM965.93 923.63h1.72V892.97h-1.72zM967.97 926.25h1.72V897.42h-1.72zM970.02 915.77h1.72V885.11h-1.72zM972.06 922.32h1.72V894.8h-1.72zM974.11 923.63h1.72V897.42h-1.72zM976.15 918.39h1.72V892.18h-1.72zM978.2 922.32h1.72V892.18h-1.72zM980.24 924.94h1.72V901.35h-1.72zM982.29 919.7h1.72V896.11h-1.72zM984.33 913.15h1.72V890.87h-1.72zM986.38 900.04h1.72V872h-1.72zM988.42 897.42h1.72V866.76h-1.72zM990.47 901.35h1.72V868.6h-1.72zM992.51 910.53h1.72V883.01h-1.72zM994.56 911.84h1.72V885.63h-1.72zM996.6 913.15h1.72V888.78h-1.72zM998.65 914.46h1.72V889.56h-1.72zM1000.69 915.77h1.72V889.56h-1.72zM1002.74 924.94h1.72V902.67h-1.72zM1004.78 928.87h1.72V907.91h-1.72zM1006.83 922.32h1.72V896.11h-1.72zM1008.87 930.18h1.72V913.15h-1.72zM1010.92 923.63h1.72V903.98h-1.72zM1012.96 922.32h1.72V901.88h-1.72zM1015.01 921.01h1.72V902.67h-1.72zM1017.05 922.32h1.72V901.88h-1.72zM1019.1 927.56h1.72V914.46h-1.72zM1021.14 919.7h1.72V907.91h-1.72zM1023.19 914.46h1.72V897.42h-1.72zM1025.23 915.77h1.72V897.42h-1.72zM1027.28 913.15h1.72V896.11h-1.72zM1029.32 917.08h1.72V902.67h-1.72zM1031.37 910.53h1.72V893.49h-1.72zM1033.41 906.6h1.72V885.11h-1.72zM1035.46 915.77h1.72V894.8h-1.72zM1037.5 926.25h1.72V911.31h-1.72zM1039.55 940.67h1.72V931.49h-1.72zM1041.59 966.87h1.72V966.35h-1.72zM1043.64 959.01h1.72V954.29h-1.72zM1045.68 927.56h1.72V910.53h-1.72zM1047.73 917.6h1.72V890.35h-1.72zM1049.77 924.42h1.72V901.88h-1.72zM1051.82 965.56h1.72V962.94h-1.72zM1053.86 918.39h1.72V897.42h-1.72zM1055.91 913.15h1.72V885.63h-1.72zM1057.95 914.46h1.72V886.15h-1.72zM1060 915.77h1.72V890.87h-1.72zM1062.04 914.46h1.72V892.18h-1.72zM1064.09 911.84h1.72V889.56h-1.72zM1066.13 909.22h1.72V886.94h-1.72zM1068.18 908.69h1.72V885.11h-1.72zM1070.22 907.91h1.72V886.15h-1.72zM1072.27 906.6h1.72V889.56h-1.72zM1074.31 897.42h1.72V872.53h-1.72zM1076.36 894.8h1.72V861.26h-1.72zM1078.4 889.56h1.72V854.18h-1.72zM1080.45 908.69h1.72V881.7h-1.72zM1082.49 904.5h1.72V872.53h-1.72zM1084.54 903.98h1.72V868.6h-1.72zM1086.58 911.84h1.72V880.91h-1.72zM1088.63 914.98h1.72V888.25h-1.72zM1090.67 919.7h1.72V897.42h-1.72zM1092.72 918.39h1.72V898.73h-1.72zM1094.76 904.5h1.72V875.67h-1.72zM1096.8 903.45h1.72V873.84h-1.72zM1098.85 893.49h1.72V852.87h-1.72zM1100.89 910.53h1.72V873.05h-1.72zM1102.94 914.98h1.72V884.32h-1.72zM1104.98 914.46h1.72V885.11h-1.72zM1107.03 913.15h1.72V879.08h-1.72zM1109.07 911.84h1.72V874.62h-1.72zM1111.12 918.39h1.72V883.01h-1.72zM1113.16 929.66h1.72V905.29h-1.72zM1115.21 922.32h1.72V893.49h-1.72zM1117.25 924.94h1.72V897.42h-1.72zM1119.3 919.18h1.72V886.94h-1.72zM1121.34 921.01h1.72V890.35h-1.72zM1123.39 926.25h1.72V898.21h-1.72zM1125.43 921.01h1.72V890.87h-1.72zM1127.48 909.22h1.72V873.84h-1.72zM1129.52 911.84h1.72V875.15h-1.72zM1131.57 931.49h1.72V904.5h-1.72zM1133.61 934.9h1.72V910.53h-1.72zM1135.66 917.08h1.72V890.35h-1.72zM1137.7 907.91h1.72V883.01h-1.72zM1139.75 907.12h1.72V882.49h-1.72zM1141.79 908.69h1.72V881.7h-1.72zM1143.84 907.91h1.72V880.91h-1.72zM1145.88 905.29h1.72V876.46h-1.72zM1147.93 900.83h1.72V869.38h-1.72zM1149.97 901.88h1.72V873.84h-1.72zM1152.02 900.83h1.72V872.53h-1.72zM1154.06 898.21h1.72V867.29h-1.72zM1156.11 896.11h1.72V862.83h-1.72zM1158.15 898.21h1.72V869.91h-1.72zM1160.2 899.26h1.72V872.53h-1.72zM1162.24 904.5h1.72V879.86h-1.72zM1164.29 959.54h1.72V957.7h-1.72zM1166.33 898.73h1.72V867.29h-1.72zM1168.38 911.31h1.72V884.32h-1.72zM1170.42 928.87h1.72V911.84h-1.72zM1172.47 913.15h1.72V888.25h-1.72zM1174.51 908.69h1.72V879.08h-1.72zM1176.56 906.6h1.72V869.91h-1.72zM1178.6 908.69h1.72V876.46h-1.72zM1180.65 911.84h1.72V880.39h-1.72zM1182.69 909.22h1.72V872.53h-1.72zM1184.74 910.53h1.72V873.84h-1.72zM1186.78 912.36h1.72V875.67h-1.72zM1188.83 914.46h1.72V883.01h-1.72zM1190.87 911.84h1.72V877.77h-1.72zM1192.92 915.77h1.72V883.01h-1.72zM1194.96 916.56h1.72V881.7h-1.72zM1197.01 918.39h1.72V886.94h-1.72zM1199.05 918.39h1.72V885.63h-1.72zM1201.1 914.46h1.72V881.7h-1.72zM1203.14 906.6h1.72V875.15h-1.72zM1205.19 909.22h1.72V881.7h-1.72zM1207.23 910.53h1.72V883.01h-1.72zM1209.28 915.77h1.72V890.35h-1.72zM1211.32 912.36h1.72V884.32h-1.72zM1213.37 908.69h1.72V879.86h-1.72zM1215.41 907.91h1.72V878.29h-1.72zM1217.46 913.15h1.72V884.32h-1.72zM1219.5 911.31h1.72V878.29h-1.72zM1221.55 911.84h1.72V880.39h-1.72zM1223.59 911.31h1.72V879.86h-1.72zM1225.64 913.15h1.72V884.32h-1.72zM1227.68 913.93h1.72V883.53h-1.72zM1229.73 909.74h1.72V875.67h-1.72zM1231.77 909.22h1.72V872.53h-1.72zM1233.82 913.93h1.72V881.7h-1.72z" fill="#bb7631"/>
<path d="M726.5 917.98H1235.7M726.5 867.97H1235.7M726.5 817.95H1235.7M726.5 767.93H1235.7M726.5 717.92H1235.7M726.5 667.9H1235.7" stroke="#ffffff" stroke-width="1.7" fill="none" opacity="0.125"/>
<text x="720.3" y="965.25" font-size="13.5" text-anchor="end" fill="#c4d6d6">0</text>
<text x="720.3" y="921.53" font-size="13.5" text-anchor="end" fill="#c4d6d6">50000</text>
<text x="720.3" y="871.52" font-size="13.5" text-anchor="end" fill="#c4d6d6">100000</text>
<text x="720.3" y="821.5" font-size="13.5" text-anchor="end" fill="#c4d6d6">150000</text>
<text x="720.3" y="771.48" font-size="13.5" text-anchor="end" fill="#c4d6d6">200000</text>
<text x="720.3" y="721.47" font-size="13.5" text-anchor="end" fill="#c4d6d6">250000</text>
<text x="720.3" y="671.45" font-size="13.5" text-anchor="end" fill="#c4d6d6"></text>
<text x="718.4" y="675.2" font-size="12.6" text-anchor="end" fill="#c4d6d6">笔</text>
<text x="727.52" y="983.95" font-size="13.5" letter-spacing="0.32" text-anchor="middle" fill="#c4d6d6">2024/06/19</text>
<text x="819.55" y="983.95" font-size="13.5" letter-spacing="0.32" text-anchor="middle" fill="#c4d6d6">2024/08/21</text>
<text x="911.57" y="983.95" font-size="13.5" letter-spacing="0.32" text-anchor="middle" fill="#c4d6d6">2024/10/29</text>
<text x="1003.59" y="983.95" font-size="13.5" letter-spacing="0.32" text-anchor="middle" fill="#c4d6d6">2024/12/31</text>
<text x="1095.62" y="983.95" font-size="13.5" letter-spacing="0.32" text-anchor="middle" fill="#c4d6d6">2025/03/11</text>
<text x="1187.64" y="983.95" font-size="13.5" letter-spacing="0.32" text-anchor="middle" fill="#c4d6d6">2025/05/16</text>
<rect x="866.1" y="993.45" width="12.6" height="12.8" rx="2.6" fill="#e08c3c"/>
<text x="883.8" y="1004.45" font-size="12.7" fill="#c4d6d6">bid报价笔数</text>
<rect x="976" y="993.45" width="12.6" height="12.8" rx="2.6" fill="#3aa2e2"/>
<text x="994.1" y="1004.45" font-size="12.7" fill="#c4d6d6">ofr报价笔数</text>
<rect x="677.5" y="1013.25" width="582.5" height="8.4" fill="#385a5f"/>
<rect x="666.25" y="1010.95" width="25" height="12.8" rx="2.2" fill="#007b7b"/>
<path d="M676.15 1014.95v4.8M681.05 1014.95v4.8" stroke="#bfe6e2" stroke-width="1.4" fill="none"/>
<rect x="1234" y="1010.95" width="25" height="12.8" rx="2.2" fill="#007b7b"/>
<path d="M1243.9 1014.95v4.8M1248.8 1014.95v4.8" stroke="#bfe6e2" stroke-width="1.4" fill="none"/>
<rect x="1275" y="623.75" width="614" height="406.95" rx="2.5" fill="#061d1f"/>
<text x="1283.6" y="651.25" font-size="17" font-weight="700" fill="#fff">经纪商债券报价只数占比</text>
<circle cx="1482.9" cy="644.15" r="7.9" fill="none" stroke="#cfe3e3" stroke-width="1.4"/>
<text x="1482.9" y="648.35" font-size="12.5" font-weight="700" text-anchor="middle" fill="#dfe9e9" style="font-family:Liberation Serif,serif">i</text>
<rect x="1759.4" y="632.45" width="86.5" height="24" rx="4" fill="none" stroke="#008080" stroke-width="1"/>
<path d="M1763.4 632.45h39.6v24h-39.6a4 4 0 0 1-4-4v-16a4 4 0 0 1 4-4z" fill="#007b7b"/>
<g stroke="#cfeae8" fill="none" stroke-linecap="butt"><path d="M1775.4 635.15v14.6h14.6" stroke-width="1.5"/><path d="M1779 648.25v-8.7M1783.2 648.25v-6.2M1787.5 648.25v-10.9" stroke-width="1.9"/></g>
<g stroke="#cfeae8" fill="none" stroke-linejoin="round"><path d="M1817.7 635.15v14.9h15.2" stroke-width="1.5"/><path d="M1819.2 640.65l2.9 5.8l2.5-4.7l3.7 2.5l4-8.7" stroke-width="1.5"/></g>
<rect x="1860.5" y="636.35" width="15.2" height="16.2" rx="2.8" fill="none" stroke="#cfe3e3" stroke-width="1.2"/>
<g stroke="#e6efef" stroke-width="1.3" fill="#e6efef" stroke-linejoin="round"><path d="M1864.9 647.95L1871.3 640.95" fill="none"/><path d="M1868.5 639.95h3.8v3.8z" stroke-width="0.8"/><path d="M1867.7 648.95h-3.8v-3.8z" stroke-width="0.8"/></g>
<rect x="1329" y="667.9" width="523.9" height="300.1" fill="#04181a"/>
<path d="M1328.5 667.1V967.4H1852.9" stroke="#3f5a5a" stroke-width="1.8" fill="none"/>

<path d="M1329.17 968h1.77V894.93h-1.77zM1331.27 968h1.77V899.1h-1.77zM1333.38 968h1.77V900.92h-1.77zM1335.48 968h1.77V902.13h-1.77zM1337.58 968h1.77V892.05h-1.77zM1339.69 968h1.77V892.37h-1.77zM1341.79 968h1.77V897.96h-1.77zM1343.9 968h1.77V898.56h-1.77zM1346 968h1.77V905.64h-1.77zM1348.1 968h1.77V899.29h-1.77zM1350.21 968h1.77V891.19h-1.77zM1352.31 968h1.77V893.83h-1.77zM1354.42 968h1.77V898.63h-1.77zM1356.52 968h1.77V904.08h-1.77zM1358.62 968h1.77V887.94h-1.77zM1360.73 968h1.77V887.4h-1.77zM1362.83 968h1.77V890.42h-1.77zM1364.94 968h1.77V885.96h-1.77zM1367.04 968h1.77V893.59h-1.77zM1369.14 968h1.77V892.21h-1.77zM1371.25 968h1.77V889.32h-1.77zM1373.35 968h1.77V896.08h-1.77zM1375.46 968h1.77V892.13h-1.77zM1377.56 968h1.77V892.74h-1.77zM1379.66 968h1.77V893.14h-1.77zM1381.77 968h1.77V899.75h-1.77zM1383.87 968h1.77V899.25h-1.77zM1385.98 968h1.77V906.67h-1.77zM1388.08 968h1.77V904.24h-1.77zM1390.18 968h1.77V906.25h-1.77zM1392.29 968h1.77V901.7h-1.77zM1394.39 968h1.77V904.05h-1.77zM1396.5 968h1.77V903.65h-1.77zM1398.6 968h1.77V909.97h-1.77zM1400.7 968h1.77V914.19h-1.77zM1402.81 968h1.77V911.32h-1.77zM1404.91 968h1.77V910.75h-1.77zM1407.02 968h1.77V909.09h-1.77zM1409.12 968h1.77V914.94h-1.77zM1411.22 968h1.77V921.23h-1.77zM1413.33 968h1.77V903.54h-1.77zM1415.43 968h1.77V914.08h-1.77zM1417.54 968h1.77V916.7h-1.77zM1419.64 968h1.77V914.13h-1.77zM1421.75 968h1.77V909.86h-1.77zM1423.85 968h1.77V906.93h-1.77zM1425.95 968h1.77V903.99h-1.77zM1428.06 968h1.77V902.98h-1.77zM1430.16 968h1.77V904.52h-1.77zM1432.27 968h1.77V893.85h-1.77zM1434.37 968h1.77V880.15h-1.77zM1436.47 968h1.77V880.35h-1.77zM1438.58 968h1.77V893.69h-1.77zM1440.68 968h1.77V892.42h-1.77zM1442.79 968h1.77V892.16h-1.77zM1444.89 968h1.77V898.24h-1.77zM1446.99 968h1.77V905.31h-1.77zM1449.1 968h1.77V913.12h-1.77zM1451.2 968h1.77V914.22h-1.77zM1453.31 968h1.77V911.1h-1.77zM1455.41 968h1.77V908.16h-1.77zM1457.51 968h1.77V906.67h-1.77zM1459.62 968h1.77V909.85h-1.77zM1461.72 968h1.77V907.22h-1.77zM1463.83 968h1.77V962.17h-1.77zM1465.93 968h1.77V912.62h-1.77zM1468.03 968h1.77V910.82h-1.77zM1470.14 968h1.77V905.11h-1.77zM1472.24 968h1.77V905.24h-1.77zM1474.35 968h1.77V901.9h-1.77zM1476.45 968h1.77V909.53h-1.77zM1478.55 968h1.77V928.67h-1.77zM1480.66 968h1.77V937.19h-1.77zM1482.76 968h1.77V956.48h-1.77zM1484.87 968h1.77V927.05h-1.77zM1486.97 968h1.77V913.54h-1.77zM1489.07 968h1.77V876.05h-1.77zM1491.18 968h1.77V873.94h-1.77zM1493.28 968h1.77V890.94h-1.77zM1495.39 968h1.77V942.25h-1.77zM1497.49 968h1.77V886.27h-1.77zM1499.59 968h1.77V888.09h-1.77zM1501.7 968h1.77V891.82h-1.77zM1503.8 968h1.77V900.57h-1.77zM1505.91 968h1.77V900.11h-1.77zM1508.01 968h1.77V907.54h-1.77zM1510.11 968h1.77V906.84h-1.77zM1512.22 968h1.77V902.36h-1.77zM1514.32 968h1.77V898.38h-1.77zM1516.43 968h1.77V898.47h-1.77zM1518.53 968h1.77V895.12h-1.77zM1520.63 968h1.77V892.23h-1.77zM1522.74 968h1.77V885.35h-1.77zM1524.84 968h1.77V883.36h-1.77zM1526.95 968h1.77V882.13h-1.77zM1529.05 968h1.77V887.24h-1.77zM1531.15 968h1.77V887.9h-1.77zM1533.26 968h1.77V888.32h-1.77zM1535.36 968h1.77V883.83h-1.77zM1537.47 968h1.77V882.09h-1.77zM1539.57 968h1.77V884.02h-1.77zM1541.67 968h1.77V884.42h-1.77zM1543.78 968h1.77V889.31h-1.77zM1545.88 968h1.77V886.36h-1.77zM1547.99 968h1.77V893.2h-1.77zM1550.09 968h1.77V881.79h-1.77zM1552.19 968h1.77V875.61h-1.77zM1554.3 968h1.77V877.22h-1.77zM1556.4 968h1.77V874.75h-1.77zM1558.51 968h1.77V884.28h-1.77zM1560.61 968h1.77V886.79h-1.77zM1562.71 968h1.77V886.05h-1.77zM1564.82 968h1.77V889.42h-1.77zM1566.92 968h1.77V894.33h-1.77zM1569.03 968h1.77V894.77h-1.77zM1571.13 968h1.77V900.91h-1.77zM1573.23 968h1.77V899.02h-1.77zM1575.34 968h1.77V897.53h-1.77zM1577.44 968h1.77V899.82h-1.77zM1579.55 968h1.77V899.45h-1.77zM1581.65 968h1.77V900.31h-1.77zM1583.75 968h1.77V905.8h-1.77zM1585.86 968h1.77V906.6h-1.77zM1587.96 968h1.77V908.08h-1.77zM1590.07 968h1.77V906.85h-1.77zM1592.17 968h1.77V904.28h-1.77zM1594.27 968h1.77V904.17h-1.77zM1596.38 968h1.77V903.09h-1.77zM1598.48 968h1.77V903.63h-1.77zM1600.59 968h1.77V905.59h-1.77zM1602.69 968h1.77V902.1h-1.77zM1604.79 968h1.77V904.54h-1.77zM1606.9 968h1.77V908.74h-1.77zM1609 968h1.77V905.63h-1.77zM1611.11 968h1.77V908.73h-1.77zM1613.21 968h1.77V913.21h-1.77zM1615.31 968h1.77V914.08h-1.77zM1617.42 968h1.77V910.64h-1.77zM1619.52 968h1.77V903h-1.77zM1621.63 968h1.77V905.63h-1.77zM1623.73 968h1.77V908.03h-1.77zM1625.83 968h1.77V910.49h-1.77zM1627.94 968h1.77V916.32h-1.77zM1630.04 968h1.77V922.99h-1.77zM1632.15 968h1.77V911.68h-1.77zM1634.25 968h1.77V905.83h-1.77zM1636.35 968h1.77V914.38h-1.77zM1638.46 968h1.77V912.12h-1.77zM1640.56 968h1.77V910.56h-1.77zM1642.67 968h1.77V903.01h-1.77zM1644.77 968h1.77V903.55h-1.77zM1646.87 968h1.77V899.91h-1.77zM1648.98 968h1.77V920.69h-1.77zM1651.08 968h1.77V926.62h-1.77zM1653.19 968h1.77V965.01h-1.77zM1655.29 968h1.77V955.05h-1.77zM1657.39 968h1.77V909.08h-1.77zM1659.5 968h1.77V896.99h-1.77zM1661.6 968h1.77V893.85h-1.77zM1663.71 968h1.77V960.75h-1.77zM1665.81 968h1.77V886.93h-1.77zM1667.91 968h1.77V887.22h-1.77zM1670.02 968h1.77V886.3h-1.77zM1672.12 968h1.77V887.14h-1.77zM1674.23 968h1.77V889.84h-1.77zM1676.33 968h1.77V892.42h-1.77zM1678.43 968h1.77V889.71h-1.77zM1680.54 968h1.77V893.97h-1.77zM1682.64 968h1.77V898.47h-1.77zM1684.75 968h1.77V897.7h-1.77zM1686.85 968h1.77V885.23h-1.77zM1688.96 968h1.77V879.01h-1.77zM1691.06 968h1.77V878.33h-1.77zM1693.16 968h1.77V878.78h-1.77zM1695.27 968h1.77V875.24h-1.77zM1697.37 968h1.77V873.09h-1.77zM1699.48 968h1.77V876.66h-1.77zM1701.58 968h1.77V876.67h-1.77zM1703.68 968h1.77V884.2h-1.77zM1705.79 968h1.77V888.47h-1.77zM1707.89 968h1.77V881.09h-1.77zM1710 968h1.77V875.17h-1.77zM1712.1 968h1.77V873.52h-1.77zM1714.2 968h1.77V872.39h-1.77zM1716.31 968h1.77V875.89h-1.77zM1718.41 968h1.77V881h-1.77zM1720.52 968h1.77V875.71h-1.77zM1722.62 968h1.77V870.33h-1.77zM1724.72 968h1.77V878.98h-1.77zM1726.83 968h1.77V891.52h-1.77zM1728.93 968h1.77V883.3h-1.77zM1731.04 968h1.77V879.15h-1.77zM1733.14 968h1.77V879.57h-1.77zM1735.24 968h1.77V876.59h-1.77zM1737.35 968h1.77V880.6h-1.77zM1739.45 968h1.77V877.09h-1.77zM1741.56 968h1.77V871.57h-1.77zM1743.66 968h1.77V872.77h-1.77zM1745.76 968h1.77V893.55h-1.77zM1747.87 968h1.77V898.65h-1.77zM1749.97 968h1.77V890.98h-1.77zM1752.08 968h1.77V890.36h-1.77zM1754.18 968h1.77V886.68h-1.77zM1756.28 968h1.77V882.68h-1.77zM1758.39 968h1.77V879.32h-1.77zM1760.49 968h1.77V875.39h-1.77zM1762.6 968h1.77V868.32h-1.77zM1764.7 968h1.77V872.43h-1.77zM1766.8 968h1.77V871.33h-1.77zM1768.91 968h1.77V871.47h-1.77zM1771.01 968h1.77V863.47h-1.77zM1773.12 968h1.77V869.75h-1.77zM1775.22 968h1.77V871.14h-1.77zM1777.32 968h1.77V880.48h-1.77zM1779.43 968h1.77V959.32h-1.77zM1781.53 968h1.77V874.54h-1.77zM1783.64 968h1.77V879.45h-1.77zM1785.74 968h1.77V893.18h-1.77zM1787.84 968h1.77V883.42h-1.77zM1789.95 968h1.77V874.34h-1.77zM1792.05 968h1.77V870.6h-1.77zM1794.16 968h1.77V875.71h-1.77zM1796.26 968h1.77V880.74h-1.77zM1798.36 968h1.77V869.91h-1.77zM1800.47 968h1.77V867.01h-1.77zM1802.57 968h1.77V875.58h-1.77zM1804.68 968h1.77V874.41h-1.77zM1806.78 968h1.77V872.21h-1.77zM1808.88 968h1.77V875.52h-1.77zM1810.99 968h1.77V872.84h-1.77zM1813.09 968h1.77V870.5h-1.77zM1815.2 968h1.77V876.27h-1.77zM1817.3 968h1.77V873.63h-1.77zM1819.4 968h1.77V873.42h-1.77zM1821.51 968h1.77V880.24h-1.77zM1823.61 968h1.77V880.01h-1.77zM1825.72 968h1.77V879.12h-1.77zM1827.82 968h1.77V878.83h-1.77zM1829.92 968h1.77V873.52h-1.77zM1832.03 968h1.77V873.89h-1.77zM1834.13 968h1.77V870.3h-1.77zM1836.24 968h1.77V872.47h-1.77zM1838.34 968h1.77V863.9h-1.77zM1840.44 968h1.77V864.97h-1.77zM1842.55 968h1.77V871.46h-1.77zM1844.65 968h1.77V864.93h-1.77zM1846.76 968h1.77V864.36h-1.77zM1848.86 968h1.77V866.12h-1.77zM1850.96 968h1.77V865.57h-1.77z" fill="#c7512b"/><path d="M1329.17 894.93h1.77V854.46h-1.77zM1331.27 899.1h1.77V857.49h-1.77zM1333.38 900.92h1.77V860.91h-1.77zM1335.48 902.13h1.77V853.68h-1.77zM1337.58 892.05h1.77V853.32h-1.77zM1339.69 892.37h1.77V856.64h-1.77zM1341.79 897.96h1.77V856.27h-1.77zM1343.9 898.56h1.77V861.36h-1.77zM1346 905.64h1.77V865.1h-1.77zM1348.1 899.29h1.77V856.49h-1.77zM1350.21 891.19h1.77V847.9h-1.77zM1352.31 893.83h1.77V838.41h-1.77zM1354.42 898.63h1.77V837.14h-1.77zM1356.52 904.08h1.77V857.06h-1.77zM1358.62 887.94h1.77V832.63h-1.77zM1360.73 887.4h1.77V832.95h-1.77zM1362.83 890.42h1.77V827.97h-1.77zM1364.94 885.96h1.77V826.16h-1.77zM1367.04 893.59h1.77V820.56h-1.77zM1369.14 892.21h1.77V822.45h-1.77zM1371.25 889.32h1.77V818.63h-1.77zM1373.35 896.08h1.77V815.74h-1.77zM1375.46 892.13h1.77V813.85h-1.77zM1377.56 892.74h1.77V815.13h-1.77zM1379.66 893.14h1.77V814.76h-1.77zM1381.77 899.75h1.77V814.3h-1.77zM1383.87 899.25h1.77V820.1h-1.77zM1385.98 906.67h1.77V829.14h-1.77zM1388.08 904.24h1.77V837.19h-1.77zM1390.18 906.25h1.77V830.2h-1.77zM1392.29 901.7h1.77V827.15h-1.77zM1394.39 904.05h1.77V830.97h-1.77zM1396.5 903.65h1.77V836.13h-1.77zM1398.6 909.97h1.77V834.69h-1.77zM1400.7 914.19h1.77V836.3h-1.77zM1402.81 911.32h1.77V838.52h-1.77zM1404.91 910.75h1.77V849.38h-1.77zM1407.02 909.09h1.77V864.43h-1.77zM1409.12 914.94h1.77V880.13h-1.77zM1411.22 921.23h1.77V876.18h-1.77zM1413.33 903.54h1.77V877.65h-1.77zM1415.43 914.08h1.77V878.08h-1.77zM1417.54 916.7h1.77V881.52h-1.77zM1419.64 914.13h1.77V875.01h-1.77zM1421.75 909.86h1.77V876.66h-1.77zM1423.85 906.93h1.77V878.53h-1.77zM1425.95 903.99h1.77V875.65h-1.77zM1428.06 902.98h1.77V877.04h-1.77zM1430.16 904.52h1.77V878.67h-1.77zM1432.27 893.85h1.77V885.48h-1.77zM1434.37 880.15h1.77V865.88h-1.77zM1436.47 880.35h1.77V855.29h-1.77zM1438.58 893.69h1.77V863.95h-1.77zM1440.68 892.42h1.77V859.92h-1.77zM1442.79 892.16h1.77V865.71h-1.77zM1444.89 898.24h1.77V868.19h-1.77zM1446.99 905.31h1.77V873.94h-1.77zM1449.1 913.12h1.77V878.65h-1.77zM1451.2 914.22h1.77V884.14h-1.77zM1453.31 911.1h1.77V882.59h-1.77zM1455.41 908.16h1.77V877.91h-1.77zM1457.51 906.67h1.77V874.49h-1.77zM1459.62 909.85h1.77V880.06h-1.77zM1461.72 907.22h1.77V881.74h-1.77zM1463.83 962.17h1.77V943.67h-1.77zM1465.93 912.62h1.77V889.79h-1.77zM1468.03 910.82h1.77V880.01h-1.77zM1470.14 905.11h1.77V876.4h-1.77zM1472.24 905.24h1.77V876.89h-1.77zM1474.35 901.9h1.77V870.63h-1.77zM1476.45 909.53h1.77V876.21h-1.77zM1478.55 928.67h1.77V898.99h-1.77zM1480.66 937.19h1.77V909.77h-1.77zM1482.76 956.48h1.77V939.41h-1.77zM1484.87 927.05h1.77V911.2h-1.77zM1486.97 913.54h1.77V896.48h-1.77zM1489.07 876.05h1.77V854.65h-1.77zM1491.18 873.94h1.77V841.85h-1.77zM1493.28 890.94h1.77V844.68h-1.77zM1495.39 942.25h1.77V901h-1.77zM1497.49 886.27h1.77V821.71h-1.77zM1499.59 888.09h1.77V823.89h-1.77zM1501.7 891.82h1.77V835.2h-1.77zM1503.8 900.57h1.77V847.75h-1.77zM1505.91 900.11h1.77V862.01h-1.77zM1508.01 907.54h1.77V865.31h-1.77zM1510.11 906.84h1.77V862.9h-1.77zM1512.22 902.36h1.77V862.49h-1.77zM1514.32 898.38h1.77V861.04h-1.77zM1516.43 898.47h1.77V859.24h-1.77zM1518.53 895.12h1.77V856.72h-1.77zM1520.63 892.23h1.77V846.74h-1.77zM1522.74 885.35h1.77V839.05h-1.77zM1524.84 883.36h1.77V830.81h-1.77zM1526.95 882.13h1.77V837.48h-1.77zM1529.05 887.24h1.77V840.75h-1.77zM1531.15 887.9h1.77V838.04h-1.77zM1533.26 888.32h1.77V836.61h-1.77zM1535.36 883.83h1.77V837.3h-1.77zM1537.47 882.09h1.77V835.75h-1.77zM1539.57 884.02h1.77V835.46h-1.77zM1541.67 884.42h1.77V831.41h-1.77zM1543.78 889.31h1.77V837.95h-1.77zM1545.88 886.36h1.77V839.79h-1.77zM1547.99 893.2h1.77V835.06h-1.77zM1550.09 881.79h1.77V834.8h-1.77zM1552.19 875.61h1.77V825.74h-1.77zM1554.3 877.22h1.77V826.15h-1.77zM1556.4 874.75h1.77V825.79h-1.77zM1558.51 884.28h1.77V824.43h-1.77zM1560.61 886.79h1.77V826.56h-1.77zM1562.71 886.05h1.77V831.97h-1.77zM1564.82 889.42h1.77V834.62h-1.77zM1566.92 894.33h1.77V829.46h-1.77zM1569.03 894.77h1.77V831.88h-1.77zM1571.13 900.91h1.77V834.97h-1.77zM1573.23 899.02h1.77V831.04h-1.77zM1575.34 897.53h1.77V832.98h-1.77zM1577.44 899.82h1.77V837.94h-1.77zM1579.55 899.45h1.77V836.72h-1.77zM1581.65 900.31h1.77V843.04h-1.77zM1583.75 905.8h1.77V846.7h-1.77zM1585.86 906.6h1.77V851.99h-1.77zM1587.96 908.08h1.77V853.03h-1.77zM1590.07 906.85h1.77V863.43h-1.77zM1592.17 904.28h1.77V865.11h-1.77zM1594.27 904.17h1.77V870.72h-1.77zM1596.38 903.09h1.77V868.03h-1.77zM1598.48 903.63h1.77V872.34h-1.77zM1600.59 905.59h1.77V865.5h-1.77zM1602.69 902.1h1.77V870.62h-1.77zM1604.79 904.54h1.77V873.72h-1.77zM1606.9 908.74h1.77V872.82h-1.77zM1609 905.63h1.77V873.33h-1.77zM1611.11 908.73h1.77V875.44h-1.77zM1613.21 913.21h1.77V876.96h-1.77zM1615.31 914.08h1.77V877.65h-1.77zM1617.42 910.64h1.77V867.48h-1.77zM1619.52 903h1.77V867.01h-1.77zM1621.63 905.63h1.77V862.75h-1.77zM1623.73 908.03h1.77V868.83h-1.77zM1625.83 910.49h1.77V875.31h-1.77zM1627.94 916.32h1.77V886.13h-1.77zM1630.04 922.99h1.77V895.84h-1.77zM1632.15 911.68h1.77V892.15h-1.77zM1634.25 905.83h1.77V887.5h-1.77zM1636.35 914.38h1.77V892.03h-1.77zM1638.46 912.12h1.77V889.58h-1.77zM1640.56 910.56h1.77V881.95h-1.77zM1642.67 903.01h1.77V876.7h-1.77zM1644.77 903.55h1.77V874.24h-1.77zM1646.87 899.91h1.77V868.68h-1.77zM1648.98 920.69h1.77V897.94h-1.77zM1651.08 926.62h1.77V919.25h-1.77zM1653.19 965.01h1.77V962.17h-1.77zM1655.29 955.05h1.77V922.34h-1.77zM1657.39 909.08h1.77V859.13h-1.77zM1659.5 896.99h1.77V852.15h-1.77zM1661.6 893.85h1.77V854.29h-1.77zM1663.71 960.75h1.77V937.98h-1.77zM1665.81 886.93h1.77V857.71h-1.77zM1667.91 887.22h1.77V852.95h-1.77zM1670.02 886.3h1.77V847.73h-1.77zM1672.12 887.14h1.77V847.09h-1.77zM1674.23 889.84h1.77V850.19h-1.77zM1676.33 892.42h1.77V858.7h-1.77zM1678.43 889.71h1.77V857.46h-1.77zM1680.54 893.97h1.77V856.63h-1.77zM1682.64 898.47h1.77V859.21h-1.77zM1684.75 897.7h1.77V858.58h-1.77zM1686.85 885.23h1.77V845.43h-1.77zM1688.96 879.01h1.77V832.02h-1.77zM1691.06 878.33h1.77V828.08h-1.77zM1693.16 878.78h1.77V821.21h-1.77zM1695.27 875.24h1.77V821.95h-1.77zM1697.37 873.09h1.77V825.6h-1.77zM1699.48 876.66h1.77V825.76h-1.77zM1701.58 876.67h1.77V830.86h-1.77zM1703.68 884.2h1.77V835.84h-1.77zM1705.79 888.47h1.77V842.82h-1.77zM1707.89 881.09h1.77V844.31h-1.77zM1710 875.17h1.77V841.03h-1.77zM1712.1 873.52h1.77V831.85h-1.77zM1714.2 872.39h1.77V836.38h-1.77zM1716.31 875.89h1.77V840.15h-1.77zM1718.41 881h1.77V833.87h-1.77zM1720.52 875.71h1.77V821.74h-1.77zM1722.62 870.33h1.77V815.2h-1.77zM1724.72 878.98h1.77V816.77h-1.77zM1726.83 891.52h1.77V831.24h-1.77zM1728.93 883.3h1.77V828.12h-1.77zM1731.04 879.15h1.77V822.69h-1.77zM1733.14 879.57h1.77V821.68h-1.77zM1735.24 876.59h1.77V820.53h-1.77zM1737.35 880.6h1.77V822.91h-1.77zM1739.45 877.09h1.77V817.38h-1.77zM1741.56 871.57h1.77V811.78h-1.77zM1743.66 872.77h1.77V810.85h-1.77zM1745.76 893.55h1.77V812.76h-1.77zM1747.87 898.65h1.77V819.31h-1.77zM1749.97 890.98h1.77V832.71h-1.77zM1752.08 890.36h1.77V844.47h-1.77zM1754.18 886.68h1.77V840.48h-1.77zM1756.28 882.68h1.77V840.95h-1.77zM1758.39 879.32h1.77V832.92h-1.77zM1760.49 875.39h1.77V832.52h-1.77zM1762.6 868.32h1.77V825.59h-1.77zM1764.7 872.43h1.77V831.29h-1.77zM1766.8 871.33h1.77V825.94h-1.77zM1768.91 871.47h1.77V828.92h-1.77zM1771.01 863.47h1.77V821.04h-1.77zM1773.12 869.75h1.77V827.48h-1.77zM1775.22 871.14h1.77V826.48h-1.77zM1777.32 880.48h1.77V841.86h-1.77zM1779.43 959.32h1.77V943.67h-1.77zM1781.53 874.54h1.77V833.52h-1.77zM1783.64 879.45h1.77V834.65h-1.77zM1785.74 893.18h1.77V843.08h-1.77zM1787.84 883.42h1.77V835.75h-1.77zM1789.95 874.34h1.77V824.03h-1.77zM1792.05 870.6h1.77V820.57h-1.77zM1794.16 875.71h1.77V819.68h-1.77zM1796.26 880.74h1.77V820.41h-1.77zM1798.36 869.91h1.77V814.22h-1.77zM1800.47 867.01h1.77V804.39h-1.77zM1802.57 875.58h1.77V804.96h-1.77zM1804.68 874.41h1.77V813.24h-1.77zM1806.78 872.21h1.77V811.61h-1.77zM1808.88 875.52h1.77V809.04h-1.77zM1810.99 872.84h1.77V809.22h-1.77zM1813.09 870.5h1.77V806.69h-1.77zM1815.2 876.27h1.77V811.54h-1.77zM1817.3 873.63h1.77V822.88h-1.77zM1819.4 873.42h1.77V824.62h-1.77zM1821.51 880.24h1.77V829.72h-1.77zM1823.61 880.01h1.77V838.33h-1.77zM1825.72 879.12h1.77V837.46h-1.77zM1827.82 878.83h1.77V834.13h-1.77zM1829.92 873.52h1.77V826.24h-1.77zM1832.03 873.89h1.77V821.13h-1.77zM1834.13 870.3h1.77V815.47h-1.77zM1836.24 872.47h1.77V809.09h-1.77zM1838.34 863.9h1.77V806.14h-1.77zM1840.44 864.97h1.77V805.23h-1.77zM1842.55 871.46h1.77V803.75h-1.77zM1844.65 864.93h1.77V806.33h-1.77zM1846.76 864.36h1.77V800.27h-1.77zM1848.86 866.12h1.77V802.66h-1.77zM1850.96 865.57h1.77V804.05h-1.77z" fill="#3496ce"/><path d="M1329.17 854.46h1.77V750.83h-1.77zM1331.27 857.49h1.77V750.97h-1.77zM1333.38 860.91h1.77V753.7h-1.77zM1335.48 853.68h1.77V746.32h-1.77zM1337.58 853.32h1.77V742.99h-1.77zM1339.69 856.64h1.77V747.69h-1.77zM1341.79 856.27h1.77V745.02h-1.77zM1343.9 861.36h1.77V748.62h-1.77zM1346 865.1h1.77V752.69h-1.77zM1348.1 856.49h1.77V749.42h-1.77zM1350.21 847.9h1.77V738.26h-1.77zM1352.31 838.41h1.77V736.3h-1.77zM1354.42 837.14h1.77V740.25h-1.77zM1356.52 857.06h1.77V741.25h-1.77zM1358.62 832.63h1.77V742.07h-1.77zM1360.73 832.95h1.77V734.21h-1.77zM1362.83 827.97h1.77V726.31h-1.77zM1364.94 826.16h1.77V732.06h-1.77zM1367.04 820.56h1.77V731.89h-1.77zM1369.14 822.45h1.77V735.65h-1.77zM1371.25 818.63h1.77V742.25h-1.77zM1373.35 815.74h1.77V734.22h-1.77zM1375.46 813.85h1.77V735.48h-1.77zM1377.56 815.13h1.77V736.22h-1.77zM1379.66 814.76h1.77V737.15h-1.77zM1381.77 814.3h1.77V741.82h-1.77zM1383.87 820.1h1.77V748.82h-1.77zM1385.98 829.14h1.77V753.65h-1.77zM1388.08 837.19h1.77V757.89h-1.77zM1390.18 830.2h1.77V754.55h-1.77zM1392.29 827.15h1.77V749.37h-1.77zM1394.39 830.97h1.77V746.02h-1.77zM1396.5 836.13h1.77V748.3h-1.77zM1398.6 834.69h1.77V748.24h-1.77zM1400.7 836.3h1.77V747.16h-1.77zM1402.81 838.52h1.77V740.73h-1.77zM1404.91 849.38h1.77V740.03h-1.77zM1407.02 864.43h1.77V752.2h-1.77zM1409.12 880.13h1.77V757.56h-1.77zM1411.22 876.18h1.77V756.65h-1.77zM1413.33 877.65h1.77V774.1h-1.77zM1415.43 878.08h1.77V778.85h-1.77zM1417.54 881.52h1.77V772.89h-1.77zM1419.64 875.01h1.77V762.58h-1.77zM1421.75 876.66h1.77V755.54h-1.77zM1423.85 878.53h1.77V747.05h-1.77zM1425.95 875.65h1.77V742.39h-1.77zM1428.06 877.04h1.77V733.05h-1.77zM1430.16 878.67h1.77V723.19h-1.77zM1432.27 885.48h1.77V706.31h-1.77zM1434.37 865.88h1.77V704.9h-1.77zM1436.47 855.29h1.77V738.65h-1.77zM1438.58 863.95h1.77V754.88h-1.77zM1440.68 859.92h1.77V764.21h-1.77zM1442.79 865.71h1.77V761.96h-1.77zM1444.89 868.19h1.77V768.3h-1.77zM1446.99 873.94h1.77V767.43h-1.77zM1449.1 878.65h1.77V765.98h-1.77zM1451.2 884.14h1.77V755.78h-1.77zM1453.31 882.59h1.77V743.37h-1.77zM1455.41 877.91h1.77V737.02h-1.77zM1457.51 874.49h1.77V734.02h-1.77zM1459.62 880.06h1.77V732.35h-1.77zM1461.72 881.74h1.77V731.08h-1.77zM1463.83 943.67h1.77V906.69h-1.77zM1465.93 889.79h1.77V726.74h-1.77zM1468.03 880.01h1.77V720.32h-1.77zM1470.14 876.4h1.77V712.02h-1.77zM1472.24 876.89h1.77V714.96h-1.77zM1474.35 870.63h1.77V720.4h-1.77zM1476.45 876.21h1.77V733.25h-1.77zM1478.55 898.99h1.77V744.25h-1.77zM1480.66 909.77h1.77V748.14h-1.77zM1482.76 939.41h1.77V842.67h-1.77zM1484.87 911.2h1.77V727.83h-1.77zM1486.97 896.48h1.77V698.21h-1.77zM1489.07 854.65h1.77V705.33h-1.77zM1491.18 841.85h1.77V744.77h-1.77zM1493.28 844.68h1.77V765.75h-1.77zM1495.39 901h1.77V876.81h-1.77zM1497.49 821.71h1.77V757.92h-1.77zM1499.59 823.89h1.77V745.98h-1.77zM1501.7 835.2h1.77V742.94h-1.77zM1503.8 847.75h1.77V730.8h-1.77zM1505.91 862.01h1.77V722.04h-1.77zM1508.01 865.31h1.77V708.67h-1.77zM1510.11 862.9h1.77V687.84h-1.77zM1512.22 862.49h1.77V685h-1.77zM1514.32 861.04h1.77V684.15h-1.77zM1516.43 859.24h1.77V686.68h-1.77zM1518.53 856.72h1.77V683.52h-1.77zM1520.63 846.74h1.77V680.87h-1.77zM1522.74 839.05h1.77V685.55h-1.77zM1524.84 830.81h1.77V694.94h-1.77zM1526.95 837.48h1.77V710.74h-1.77zM1529.05 840.75h1.77V713.99h-1.77zM1531.15 838.04h1.77V709.65h-1.77zM1533.26 836.61h1.77V713.54h-1.77zM1535.36 837.3h1.77V724.96h-1.77zM1537.47 835.75h1.77V725.91h-1.77zM1539.57 835.46h1.77V720.94h-1.77zM1541.67 831.41h1.77V720.14h-1.77zM1543.78 837.95h1.77V717.27h-1.77zM1545.88 839.79h1.77V719.72h-1.77zM1547.99 835.06h1.77V721.42h-1.77zM1550.09 834.8h1.77V718.5h-1.77zM1552.19 825.74h1.77V712.01h-1.77zM1554.3 826.15h1.77V714.39h-1.77zM1556.4 825.79h1.77V714.69h-1.77zM1558.51 824.43h1.77V720.87h-1.77zM1560.61 826.56h1.77V722.66h-1.77zM1562.71 831.97h1.77V728.52h-1.77zM1564.82 834.62h1.77V728.08h-1.77zM1566.92 829.46h1.77V729.36h-1.77zM1569.03 831.88h1.77V738.59h-1.77zM1571.13 834.97h1.77V749.11h-1.77zM1573.23 831.04h1.77V747.59h-1.77zM1575.34 832.98h1.77V742.83h-1.77zM1577.44 837.94h1.77V745.73h-1.77zM1579.55 836.72h1.77V746.54h-1.77zM1581.65 843.04h1.77V743.78h-1.77zM1583.75 846.7h1.77V743.48h-1.77zM1585.86 851.99h1.77V737.7h-1.77zM1587.96 853.03h1.77V734.82h-1.77zM1590.07 863.43h1.77V736.31h-1.77zM1592.17 865.11h1.77V728.03h-1.77zM1594.27 870.72h1.77V727.91h-1.77zM1596.38 868.03h1.77V713.82h-1.77zM1598.48 872.34h1.77V710.56h-1.77zM1600.59 865.5h1.77V717.77h-1.77zM1602.69 870.62h1.77V724.24h-1.77zM1604.79 873.72h1.77V725.6h-1.77zM1606.9 872.82h1.77V733.14h-1.77zM1609 873.33h1.77V742.52h-1.77zM1611.11 875.44h1.77V754.48h-1.77zM1613.21 876.96h1.77V774.02h-1.77zM1615.31 877.65h1.77V783.57h-1.77zM1617.42 867.48h1.77V773.31h-1.77zM1619.52 867.01h1.77V766.22h-1.77zM1621.63 862.75h1.77V756.06h-1.77zM1623.73 868.83h1.77V759.98h-1.77zM1625.83 875.31h1.77V754.47h-1.77zM1627.94 886.13h1.77V757.06h-1.77zM1630.04 895.84h1.77V764.07h-1.77zM1632.15 892.15h1.77V754.1h-1.77zM1634.25 887.5h1.77V745.51h-1.77zM1636.35 892.03h1.77V739.08h-1.77zM1638.46 889.58h1.77V738.86h-1.77zM1640.56 881.95h1.77V730.37h-1.77zM1642.67 876.7h1.77V730.04h-1.77zM1644.77 874.24h1.77V731.33h-1.77zM1646.87 868.68h1.77V741.29h-1.77zM1648.98 897.94h1.77V753.85h-1.77zM1651.08 919.25h1.77V787.53h-1.77zM1653.19 962.17h1.77V952.21h-1.77zM1655.29 922.34h1.77V878.24h-1.77zM1657.39 859.13h1.77V762.62h-1.77zM1659.5 852.15h1.77V754.82h-1.77zM1661.6 854.29h1.77V760.24h-1.77zM1663.71 937.98h1.77V918.07h-1.77zM1665.81 857.71h1.77V743.19h-1.77zM1667.91 852.95h1.77V738.07h-1.77zM1670.02 847.73h1.77V741.4h-1.77zM1672.12 847.09h1.77V736.96h-1.77zM1674.23 850.19h1.77V727.72h-1.77zM1676.33 858.7h1.77V722.16h-1.77zM1678.43 857.46h1.77V719.2h-1.77zM1680.54 856.63h1.77V714.06h-1.77zM1682.64 859.21h1.77V712.05h-1.77zM1684.75 858.58h1.77V705.75h-1.77zM1686.85 845.43h1.77V700.57h-1.77zM1688.96 832.02h1.77V703.02h-1.77zM1691.06 828.08h1.77V698.79h-1.77zM1693.16 821.21h1.77V696.15h-1.77zM1695.27 821.95h1.77V696.8h-1.77zM1697.37 825.6h1.77V706.8h-1.77zM1699.48 825.76h1.77V717.18h-1.77zM1701.58 830.86h1.77V718.92h-1.77zM1703.68 835.84h1.77V716.32h-1.77zM1705.79 842.82h1.77V707.78h-1.77zM1707.89 844.31h1.77V704.46h-1.77zM1710 841.03h1.77V701.05h-1.77zM1712.1 831.85h1.77V713.32h-1.77zM1714.2 836.38h1.77V732.29h-1.77zM1716.31 840.15h1.77V730.44h-1.77zM1718.41 833.87h1.77V734.25h-1.77zM1720.52 821.74h1.77V735.89h-1.77zM1722.62 815.2h1.77V734.6h-1.77zM1724.72 816.77h1.77V748.16h-1.77zM1726.83 831.24h1.77V761.65h-1.77zM1728.93 828.12h1.77V751.03h-1.77zM1731.04 822.69h1.77V745.97h-1.77zM1733.14 821.68h1.77V738.79h-1.77zM1735.24 820.53h1.77V741.35h-1.77zM1737.35 822.91h1.77V741.79h-1.77zM1739.45 817.38h1.77V729.29h-1.77zM1741.56 811.78h1.77V724.16h-1.77zM1743.66 810.85h1.77V727.9h-1.77zM1745.76 812.76h1.77V743.69h-1.77zM1747.87 819.31h1.77V739.18h-1.77zM1749.97 832.71h1.77V726.49h-1.77zM1752.08 844.47h1.77V721.93h-1.77zM1754.18 840.48h1.77V720.21h-1.77zM1756.28 840.95h1.77V716.03h-1.77zM1758.39 832.92h1.77V704.61h-1.77zM1760.49 832.52h1.77V699.25h-1.77zM1762.6 825.59h1.77V689.24h-1.77zM1764.7 831.29h1.77V690.42h-1.77zM1766.8 825.94h1.77V681.92h-1.77zM1768.91 828.92h1.77V679.9h-1.77zM1771.01 821.04h1.77V678.37h-1.77zM1773.12 827.48h1.77V678.05h-1.77zM1775.22 826.48h1.77V678h-1.77zM1777.32 841.86h1.77V692.2h-1.77zM1779.43 943.67h1.77V889.62h-1.77zM1781.53 833.52h1.77V687.54h-1.77zM1783.64 834.65h1.77V712.17h-1.77zM1785.74 843.08h1.77V733.04h-1.77zM1787.84 835.75h1.77V711.86h-1.77zM1789.95 824.03h1.77V718.93h-1.77zM1792.05 820.57h1.77V723.03h-1.77zM1794.16 819.68h1.77V724.01h-1.77zM1796.26 820.41h1.77V723.14h-1.77zM1798.36 814.22h1.77V718.31h-1.77zM1800.47 804.39h1.77V719.76h-1.77zM1802.57 804.96h1.77V725.45h-1.77zM1804.68 813.24h1.77V726.01h-1.77zM1806.78 811.61h1.77V727.94h-1.77zM1808.88 809.04h1.77V724.16h-1.77zM1810.99 809.22h1.77V722.84h-1.77zM1813.09 806.69h1.77V721.21h-1.77zM1815.2 811.54h1.77V722.49h-1.77zM1817.3 822.88h1.77V721.55h-1.77zM1819.4 824.62h1.77V724.35h-1.77zM1821.51 829.72h1.77V719.39h-1.77zM1823.61 838.33h1.77V723.04h-1.77zM1825.72 837.46h1.77V729.59h-1.77zM1827.82 834.13h1.77V722.92h-1.77zM1829.92 826.24h1.77V714.52h-1.77zM1832.03 821.13h1.77V707.05h-1.77zM1834.13 815.47h1.77V714.16h-1.77zM1836.24 809.09h1.77V715.77h-1.77zM1838.34 806.14h1.77V710.4h-1.77zM1840.44 805.23h1.77V709.82h-1.77zM1842.55 803.75h1.77V711.37h-1.77zM1844.65 806.33h1.77V710.23h-1.77zM1846.76 800.27h1.77V706.02h-1.77zM1848.86 802.66h1.77V703.06h-1.77zM1850.96 804.05h1.77V705.86h-1.77z" fill="#bb7631"/>
<path d="M1329 917.98H1852.9M1329 867.97H1852.9M1329 817.95H1852.9M1329 767.93H1852.9M1329 717.92H1852.9M1329 667.9H1852.9" stroke="#ffffff" stroke-width="1.7" fill="none" opacity="0.125"/>
<text x="1322.8" y="965.25" font-size="13.5" text-anchor="end" fill="#c4d6d6">0</text>
<text x="1322.8" y="921.53" font-size="13.5" text-anchor="end" fill="#c4d6d6">1000</text>
<text x="1322.8" y="871.52" font-size="13.5" text-anchor="end" fill="#c4d6d6">2000</text>
<text x="1322.8" y="821.5" font-size="13.5" text-anchor="end" fill="#c4d6d6">3000</text>
<text x="1322.8" y="771.48" font-size="13.5" text-anchor="end" fill="#c4d6d6">4000</text>
<text x="1322.8" y="721.47" font-size="13.5" text-anchor="end" fill="#c4d6d6">5000</text>
<text x="1322.8" y="671.45" font-size="13.5" text-anchor="end" fill="#c4d6d6"></text>
<text x="1320.9" y="675.2" font-size="12.6" text-anchor="end" fill="#c4d6d6">只</text>
<text x="1330.05" y="983.95" font-size="13.5" letter-spacing="0.32" text-anchor="middle" fill="#c4d6d6">2024/06/19</text>
<text x="1422.63" y="983.95" font-size="13.5" letter-spacing="0.32" text-anchor="middle" fill="#c4d6d6">2024/08/20</text>
<text x="1515.21" y="983.95" font-size="13.5" letter-spacing="0.32" text-anchor="middle" fill="#c4d6d6">2024/10/25</text>
<text x="1607.78" y="983.95" font-size="13.5" letter-spacing="0.32" text-anchor="middle" fill="#c4d6d6">2024/12/26</text>
<text x="1700.36" y="983.95" font-size="13.5" letter-spacing="0.32" text-anchor="middle" fill="#c4d6d6">2025/03/05</text>
<text x="1792.94" y="983.95" font-size="13.5" letter-spacing="0.32" text-anchor="middle" fill="#c4d6d6">2025/05/09</text>
<rect x="1489.5" y="993.45" width="12.6" height="12.8" rx="2.6" fill="#e08c3c"/>
<text x="1507.5" y="1004.45" font-size="12.7" fill="#c4d6d6">仅bid</text>
<rect x="1561.4" y="993.45" width="12.6" height="12.8" rx="2.6" fill="#3aa2e2"/>
<text x="1579.4" y="1004.45" font-size="12.7" fill="#c4d6d6">仅ofr</text>
<rect x="1630.5" y="993.45" width="12.6" height="12.8" rx="2.6" fill="#e25a2c"/>
<text x="1648.6" y="1004.45" font-size="12.7" fill="#c4d6d6">双边</text>
<rect x="1295" y="1013.25" width="584" height="8.4" fill="#385a5f"/>
<rect x="1283.75" y="1010.95" width="25" height="12.8" rx="2.2" fill="#007b7b"/>
<path d="M1293.65 1014.95v4.8M1298.55 1014.95v4.8" stroke="#bfe6e2" stroke-width="1.4" fill="none"/>
<rect x="1853" y="1010.95" width="25" height="12.8" rx="2.2" fill="#007b7b"/>
<path d="M1862.9 1014.95v4.8M1867.8 1014.95v4.8" stroke="#bfe6e2" stroke-width="1.4" fill="none"/>
</svg>
<div id="foot" class="abs">数据来源：<span>QB</span>，浙商证券研究所，统计时间<span>2025</span>年<span>6</span>月<span>19</span>日</div>
</body></html>
